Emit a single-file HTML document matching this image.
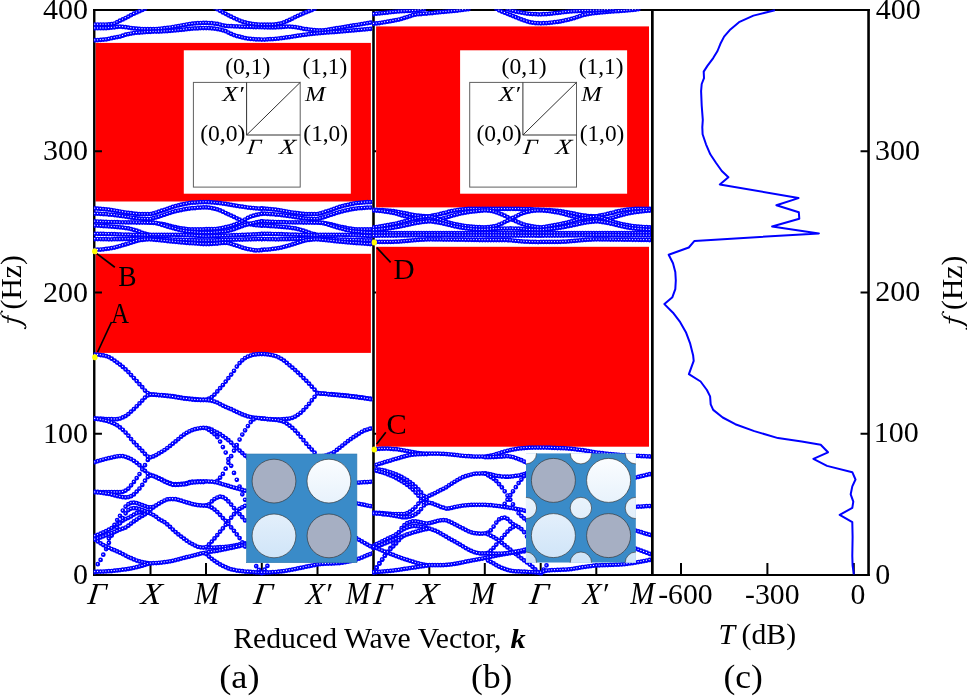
<!DOCTYPE html>
<html><head><meta charset="utf-8"><title>Band structure</title>
<style>html,body{margin:0;padding:0;background:#fff;}svg{display:block;will-change:transform;}text{font-family:"Liberation Serif",serif;fill:#000;}</style></head><body>
<svg width="967" height="696" viewBox="0 0 967 696">
<rect width="967" height="696" fill="#fff"/>
<defs>
<clipPath id="ca"><rect x="93.7" y="9.2" width="278.5" height="566.3"/></clipPath>
<clipPath id="cb"><rect x="372.4" y="9.2" width="278.6" height="566.3"/></clipPath>
<linearGradient id="lg" gradientUnits="userSpaceOnUse" x1="0" y1="458" x2="0" y2="560"><stop offset="0" stop-color="#fbfdff"/><stop offset="1" stop-color="#cfe4f8"/></linearGradient>
<clipPath id="cib"><rect x="525.9" y="453.2" width="110.0" height="109.5"/></clipPath>
</defs>
<g fill="#ff0000">
<rect x="95.5" y="42.9" width="275.4" height="158.6"/>
<rect x="95.5" y="253.8" width="275.4" height="99.1"/>
<rect x="376.1" y="26.4" width="272.9" height="181.0"/>
<rect x="376.1" y="246.8" width="272.9" height="199.9"/>
</g>
<g stroke="#000" fill="none" stroke-linecap="butt">
<path d="M93.05 10.0H869.85M93.05 575.0H869.85" stroke-width="2.0"/>
<path d="M94.25 9.0V576.0" stroke-width="2.4"/>
<path d="M373.5 10.0V575.0" stroke-width="2.6"/>
<path d="M652.35 10.0V575.0" stroke-width="2.7"/>
<path d="M868.55 9.0V576.0" stroke-width="2.6"/>
<path d="M94.25 433.8h7.7M373.5 433.8h2.6M868.55 433.8h-8.0M94.25 292.5h7.7M373.5 292.5h2.6M868.55 292.5h-8.0M94.25 151.2h7.7M373.5 151.2h2.6M868.55 151.2h-8.0M150.5 575.0v-12.0M206.0 575.0v-12.0M261.8 575.0v-12.0M317.5 575.0v-12.0M429.3 575.0v-12.0M484.8 575.0v-12.0M540.7 575.0v-12.0M596.3 575.0v-12.0M681.0 575.0v-12.0M767.4 575.0v-12.0M853.8 575.0v-12.0" stroke-width="2.0"/>
</g>
<g clip-path="url(#ca)" fill="none" stroke-linecap="round">
<path d="M95.0 24.5h0M97.8 24.5h0M100.6 24.5h0M103.3 24.5h0M106.1 24.5h0M108.9 24.3h0M111.7 24.1h0M114.5 23.5h0M117.2 22.2h0M120.0 20.7h0M122.8 19.4h0M125.6 18.0h0M128.4 16.6h0M131.1 15.1h0M133.9 13.7h0M136.7 12.4h0M139.5 11.2h0M142.3 9.9h0M145.0 8.5h0" stroke="#0000ff" stroke-width="4.75"/>
<path d="M95.0 24.5h0M97.8 24.5h0M100.6 24.5h0M103.3 24.5h0M106.1 24.5h0M108.9 24.3h0M111.7 24.1h0M114.5 23.5h0M117.2 22.2h0M120.0 20.7h0M122.8 19.4h0M125.6 18.0h0M128.4 16.6h0M131.1 15.1h0M133.9 13.7h0M136.7 12.4h0M139.5 11.2h0M142.3 9.9h0M145.0 8.5h0" stroke="#fff" stroke-width="1.25" transform="translate(-0.3 -0.3)"/>
<path d="M95.0 28.2h0M97.8 28.2h0M100.6 28.2h0M103.3 28.2h0M106.1 28.2h0M108.9 27.9h0M111.7 27.6h0M114.5 27.3h0M117.2 26.9h0M120.0 26.7h0M122.8 26.9h0M125.6 27.2h0M128.4 27.6h0M131.1 28.0h0M133.9 28.4h0M136.7 28.6h0M139.5 28.8h0M142.3 29.0h0M145.0 29.1h0M147.8 29.2h0M150.6 29.2h0M153.4 29.1h0M156.2 29.0h0M158.9 28.8h0M161.7 28.5h0M164.5 28.2h0M167.3 27.9h0M170.1 27.5h0M172.8 27.0h0M175.6 26.5h0M178.4 26.0h0M181.2 25.5h0M184.0 25.0h0M186.7 24.5h0M189.5 24.0h0M192.3 23.7h0M195.1 23.4h0M197.9 23.2h0M200.6 23.0h0M203.4 22.9h0M206.2 22.9h0M209.0 23.0h0M211.8 23.2h0M214.5 23.5h0M217.3 23.9h0M220.1 24.5h0M222.9 25.4h0M225.7 25.9h0M228.4 26.1h0M231.2 26.2h0M234.0 26.3h0M236.8 26.4h0M239.6 26.5h0M242.3 26.7h0M245.1 26.8h0M247.9 26.8h0M250.7 26.9h0M253.5 27.0h0M256.2 27.1h0M259.0 27.1h0M261.8 27.2h0M264.6 27.3h0M267.4 27.3h0M270.1 27.4h0M272.9 27.4h0M275.7 27.3h0M278.5 27.2h0M281.3 27.0h0M284.0 26.8h0M286.8 26.6h0M289.6 26.6h0M292.4 26.8h0M295.2 27.1h0M297.9 27.5h0M300.7 28.1h0M303.5 28.8h0M306.3 29.2h0M309.1 29.5h0M311.8 29.8h0M314.6 30.1h0M317.4 30.3h0M320.2 30.4h0M323.0 30.3h0M325.7 30.1h0M328.5 29.7h0M331.3 29.2h0M334.1 28.7h0M336.9 28.2h0M339.6 27.8h0M342.4 27.3h0M345.2 26.8h0M348.0 26.4h0M350.8 25.9h0M353.5 25.4h0M356.3 25.0h0M359.1 24.5h0M361.9 24.1h0M364.7 23.6h0M367.4 23.2h0M370.2 22.7h0M373.0 22.3h0" stroke="#0000ff" stroke-width="4.75"/>
<path d="M95.0 28.2h0M97.8 28.2h0M100.6 28.2h0M103.3 28.2h0M106.1 28.2h0M108.9 27.9h0M111.7 27.6h0M114.5 27.3h0M117.2 26.9h0M120.0 26.7h0M122.8 26.9h0M125.6 27.2h0M128.4 27.6h0M131.1 28.0h0M133.9 28.4h0M136.7 28.6h0M139.5 28.8h0M142.3 29.0h0M145.0 29.1h0M147.8 29.2h0M150.6 29.2h0M153.4 29.1h0M156.2 29.0h0M158.9 28.8h0M161.7 28.5h0M164.5 28.2h0M167.3 27.9h0M170.1 27.5h0M172.8 27.0h0M175.6 26.5h0M178.4 26.0h0M181.2 25.5h0M184.0 25.0h0M186.7 24.5h0M189.5 24.0h0M192.3 23.7h0M195.1 23.4h0M197.9 23.2h0M200.6 23.0h0M203.4 22.9h0M206.2 22.9h0M209.0 23.0h0M211.8 23.2h0M214.5 23.5h0M217.3 23.9h0M220.1 24.5h0M222.9 25.4h0M225.7 25.9h0M228.4 26.1h0M231.2 26.2h0M234.0 26.3h0M236.8 26.4h0M239.6 26.5h0M242.3 26.7h0M245.1 26.8h0M247.9 26.8h0M250.7 26.9h0M253.5 27.0h0M256.2 27.1h0M259.0 27.1h0M261.8 27.2h0M264.6 27.3h0M267.4 27.3h0M270.1 27.4h0M272.9 27.4h0M275.7 27.3h0M278.5 27.2h0M281.3 27.0h0M284.0 26.8h0M286.8 26.6h0M289.6 26.6h0M292.4 26.8h0M295.2 27.1h0M297.9 27.5h0M300.7 28.1h0M303.5 28.8h0M306.3 29.2h0M309.1 29.5h0M311.8 29.8h0M314.6 30.1h0M317.4 30.3h0M320.2 30.4h0M323.0 30.3h0M325.7 30.1h0M328.5 29.7h0M331.3 29.2h0M334.1 28.7h0M336.9 28.2h0M339.6 27.8h0M342.4 27.3h0M345.2 26.8h0M348.0 26.4h0M350.8 25.9h0M353.5 25.4h0M356.3 25.0h0M359.1 24.5h0M361.9 24.1h0M364.7 23.6h0M367.4 23.2h0M370.2 22.7h0M373.0 22.3h0" stroke="#fff" stroke-width="1.25" transform="translate(-0.3 -0.3)"/>
<path d="M95.0 40.2h0M97.8 40.1h0M100.6 39.9h0M103.3 39.7h0M106.1 39.4h0M108.9 38.8h0M111.7 38.2h0M114.5 37.6h0M117.2 37.1h0M120.0 36.5h0M122.8 35.7h0M125.6 34.7h0M128.4 34.0h0M131.1 33.5h0M133.9 33.0h0M136.7 32.7h0M139.5 32.5h0M142.3 32.3h0M145.0 32.1h0M147.8 31.9h0M150.6 31.8h0M153.4 31.6h0M156.2 31.6h0M158.9 31.5h0M161.7 31.4h0M164.5 31.2h0M167.3 31.1h0M170.1 30.8h0M172.8 30.6h0M175.6 30.3h0M178.4 30.1h0M181.2 29.8h0M184.0 29.5h0M186.7 29.2h0M189.5 28.9h0M192.3 28.6h0M195.1 28.4h0M197.9 28.3h0M200.6 28.1h0M203.4 28.0h0M206.2 28.0h0M209.0 28.1h0M211.8 28.3h0M214.5 28.6h0M217.3 29.0h0M220.1 29.5h0M222.9 30.3h0M225.7 31.2h0M228.4 32.5h0M231.2 33.9h0M234.0 35.1h0M236.8 36.0h0M239.6 36.7h0M242.3 37.4h0M245.1 38.1h0M247.9 38.6h0M250.7 38.9h0M253.5 39.1h0M256.2 39.3h0M259.0 39.4h0M261.8 39.5h0M264.6 39.5h0M267.4 39.3h0M270.1 39.2h0M272.9 39.0h0M275.7 38.8h0M278.5 38.5h0M281.3 38.2h0M284.0 37.8h0M286.8 37.4h0M289.6 37.0h0M292.4 36.6h0M295.2 36.2h0M297.9 35.7h0M300.7 35.3h0M303.5 34.9h0M306.3 34.5h0M309.1 34.2h0M311.8 33.9h0M314.6 33.6h0M317.4 33.3h0M320.2 33.1h0M323.0 32.8h0M325.7 32.6h0M328.5 32.4h0M331.3 32.2h0M334.1 32.0h0M336.9 31.8h0M339.6 31.6h0M342.4 31.3h0M345.2 31.1h0M348.0 30.8h0M350.8 30.6h0M353.5 30.4h0M356.3 30.1h0M359.1 29.9h0M361.9 29.6h0M364.7 29.4h0M367.4 29.1h0M370.2 28.9h0M373.0 28.6h0" stroke="#0000ff" stroke-width="4.75"/>
<path d="M95.0 40.2h0M97.8 40.1h0M100.6 39.9h0M103.3 39.7h0M106.1 39.4h0M108.9 38.8h0M111.7 38.2h0M114.5 37.6h0M117.2 37.1h0M120.0 36.5h0M122.8 35.7h0M125.6 34.7h0M128.4 34.0h0M131.1 33.5h0M133.9 33.0h0M136.7 32.7h0M139.5 32.5h0M142.3 32.3h0M145.0 32.1h0M147.8 31.9h0M150.6 31.8h0M153.4 31.6h0M156.2 31.6h0M158.9 31.5h0M161.7 31.4h0M164.5 31.2h0M167.3 31.1h0M170.1 30.8h0M172.8 30.6h0M175.6 30.3h0M178.4 30.1h0M181.2 29.8h0M184.0 29.5h0M186.7 29.2h0M189.5 28.9h0M192.3 28.6h0M195.1 28.4h0M197.9 28.3h0M200.6 28.1h0M203.4 28.0h0M206.2 28.0h0M209.0 28.1h0M211.8 28.3h0M214.5 28.6h0M217.3 29.0h0M220.1 29.5h0M222.9 30.3h0M225.7 31.2h0M228.4 32.5h0M231.2 33.9h0M234.0 35.1h0M236.8 36.0h0M239.6 36.7h0M242.3 37.4h0M245.1 38.1h0M247.9 38.6h0M250.7 38.9h0M253.5 39.1h0M256.2 39.3h0M259.0 39.4h0M261.8 39.5h0M264.6 39.5h0M267.4 39.3h0M270.1 39.2h0M272.9 39.0h0M275.7 38.8h0M278.5 38.5h0M281.3 38.2h0M284.0 37.8h0M286.8 37.4h0M289.6 37.0h0M292.4 36.6h0M295.2 36.2h0M297.9 35.7h0M300.7 35.3h0M303.5 34.9h0M306.3 34.5h0M309.1 34.2h0M311.8 33.9h0M314.6 33.6h0M317.4 33.3h0M320.2 33.1h0M323.0 32.8h0M325.7 32.6h0M328.5 32.4h0M331.3 32.2h0M334.1 32.0h0M336.9 31.8h0M339.6 31.6h0M342.4 31.3h0M345.2 31.1h0M348.0 30.8h0M350.8 30.6h0M353.5 30.4h0M356.3 30.1h0M359.1 29.9h0M361.9 29.6h0M364.7 29.4h0M367.4 29.1h0M370.2 28.9h0M373.0 28.6h0" stroke="#fff" stroke-width="1.25" transform="translate(-0.3 -0.3)"/>
<path d="M214.5 7.4h0M217.3 9.2h0M220.1 10.8h0M222.9 12.4h0M225.7 13.8h0M228.4 15.3h0M231.2 16.7h0M234.0 18.0h0M236.8 19.3h0M239.6 20.5h0M242.3 21.5h0M245.1 22.4h0M247.9 23.2h0M250.7 23.6h0M253.5 24.0h0M256.2 24.3h0M259.0 24.5h0M261.8 24.6h0M264.6 24.6h0M267.4 24.6h0M270.1 24.6h0M272.9 24.6h0M275.7 24.4h0M278.5 23.9h0M281.3 23.3h0M284.0 22.4h0M286.8 21.2h0M289.6 19.9h0M292.4 18.5h0M295.2 17.1h0M297.9 15.8h0M300.7 14.5h0M303.5 13.3h0M306.3 12.2h0M309.1 11.1h0M311.8 10.0h0M314.6 8.7h0" stroke="#0000ff" stroke-width="4.75"/>
<path d="M214.5 7.4h0M217.3 9.2h0M220.1 10.8h0M222.9 12.4h0M225.7 13.8h0M228.4 15.3h0M231.2 16.7h0M234.0 18.0h0M236.8 19.3h0M239.6 20.5h0M242.3 21.5h0M245.1 22.4h0M247.9 23.2h0M250.7 23.6h0M253.5 24.0h0M256.2 24.3h0M259.0 24.5h0M261.8 24.6h0M264.6 24.6h0M267.4 24.6h0M270.1 24.6h0M272.9 24.6h0M275.7 24.4h0M278.5 23.9h0M281.3 23.3h0M284.0 22.4h0M286.8 21.2h0M289.6 19.9h0M292.4 18.5h0M295.2 17.1h0M297.9 15.8h0M300.7 14.5h0M303.5 13.3h0M306.3 12.2h0M309.1 11.1h0M311.8 10.0h0M314.6 8.7h0" stroke="#fff" stroke-width="1.25" transform="translate(-0.3 -0.3)"/>
<path d="M95.0 208.4h0M97.8 208.6h0M100.6 208.9h0M103.3 209.1h0M106.1 209.4h0M108.9 209.7h0M111.7 210.1h0M114.5 210.5h0M117.2 211.0h0M120.0 211.5h0M122.8 212.0h0M125.6 212.5h0M128.4 212.8h0M131.1 213.2h0M133.9 213.6h0M136.7 213.9h0M139.5 214.1h0M142.3 214.1h0M145.0 214.1h0M147.8 214.1h0" stroke="#0000ff" stroke-width="4.75"/>
<path d="M95.0 208.4h0M97.8 208.6h0M100.6 208.9h0M103.3 209.1h0M106.1 209.4h0M108.9 209.7h0M111.7 210.1h0M114.5 210.5h0M117.2 211.0h0M120.0 211.5h0M122.8 212.0h0M125.6 212.5h0M128.4 212.8h0M131.1 213.2h0M133.9 213.6h0M136.7 213.9h0M139.5 214.1h0M142.3 214.1h0M145.0 214.1h0M147.8 214.1h0" stroke="#fff" stroke-width="1.25" transform="translate(-0.3 -0.3)"/>
<path d="M261.8 208.4h0M264.6 208.6h0M267.4 208.9h0M270.1 209.1h0M272.9 209.4h0M275.7 209.7h0M278.5 210.1h0M281.3 210.5h0M284.0 211.0h0M286.8 211.5h0M289.6 212.0h0M292.4 212.5h0M295.2 212.8h0M297.9 213.2h0M300.7 213.6h0M303.5 213.9h0M306.3 214.1h0M309.1 214.1h0M311.8 214.1h0M314.6 214.1h0M317.4 214.1h0" stroke="#0000ff" stroke-width="4.75"/>
<path d="M261.8 208.4h0M264.6 208.6h0M267.4 208.9h0M270.1 209.1h0M272.9 209.4h0M275.7 209.7h0M278.5 210.1h0M281.3 210.5h0M284.0 211.0h0M286.8 211.5h0M289.6 212.0h0M292.4 212.5h0M295.2 212.8h0M297.9 213.2h0M300.7 213.6h0M303.5 213.9h0M306.3 214.1h0M309.1 214.1h0M311.8 214.1h0M314.6 214.1h0M317.4 214.1h0" stroke="#fff" stroke-width="1.25" transform="translate(-0.3 -0.3)"/>
<path d="M95.0 213.6h0M97.8 213.7h0M100.6 213.9h0M103.3 214.0h0M106.1 214.2h0M108.9 214.5h0M111.7 214.7h0M114.5 215.0h0M117.2 215.4h0M120.0 215.8h0M122.8 216.2h0M125.6 216.6h0M128.4 217.0h0M131.1 217.5h0M133.9 217.9h0M136.7 218.3h0M139.5 218.6h0M142.3 218.8h0M145.0 218.9h0M147.8 219.0h0" stroke="#0000ff" stroke-width="4.75"/>
<path d="M95.0 213.6h0M97.8 213.7h0M100.6 213.9h0M103.3 214.0h0M106.1 214.2h0M108.9 214.5h0M111.7 214.7h0M114.5 215.0h0M117.2 215.4h0M120.0 215.8h0M122.8 216.2h0M125.6 216.6h0M128.4 217.0h0M131.1 217.5h0M133.9 217.9h0M136.7 218.3h0M139.5 218.6h0M142.3 218.8h0M145.0 218.9h0M147.8 219.0h0" stroke="#fff" stroke-width="1.25" transform="translate(-0.3 -0.3)"/>
<path d="M261.8 213.6h0M264.6 213.7h0M267.4 213.9h0M270.1 214.0h0M272.9 214.2h0M275.7 214.5h0M278.5 214.7h0M281.3 215.0h0M284.0 215.4h0M286.8 215.8h0M289.6 216.2h0M292.4 216.6h0M295.2 217.0h0M297.9 217.4h0M300.7 217.9h0M303.5 218.3h0M306.3 218.6h0M309.1 218.8h0M311.8 218.9h0M314.6 219.0h0M317.4 219.0h0" stroke="#0000ff" stroke-width="4.75"/>
<path d="M261.8 213.6h0M264.6 213.7h0M267.4 213.9h0M270.1 214.0h0M272.9 214.2h0M275.7 214.5h0M278.5 214.7h0M281.3 215.0h0M284.0 215.4h0M286.8 215.8h0M289.6 216.2h0M292.4 216.6h0M295.2 217.0h0M297.9 217.4h0M300.7 217.9h0M303.5 218.3h0M306.3 218.6h0M309.1 218.8h0M311.8 218.9h0M314.6 219.0h0M317.4 219.0h0" stroke="#fff" stroke-width="1.25" transform="translate(-0.3 -0.3)"/>
<path d="M95.0 221.4h0M97.8 221.5h0M100.6 221.7h0M103.3 221.8h0M106.1 221.9h0M108.9 222.0h0M111.7 222.1h0M114.5 222.2h0M117.2 222.2h0M120.0 222.3h0M122.8 222.3h0M125.6 222.3h0M128.4 222.4h0M131.1 222.4h0M133.9 222.4h0M136.7 222.5h0M139.5 222.5h0M142.3 222.6h0M145.0 222.6h0M147.8 222.7h0" stroke="#0000ff" stroke-width="4.75"/>
<path d="M95.0 221.4h0M97.8 221.5h0M100.6 221.7h0M103.3 221.8h0M106.1 221.9h0M108.9 222.0h0M111.7 222.1h0M114.5 222.2h0M117.2 222.2h0M120.0 222.3h0M122.8 222.3h0M125.6 222.3h0M128.4 222.4h0M131.1 222.4h0M133.9 222.4h0M136.7 222.5h0M139.5 222.5h0M142.3 222.6h0M145.0 222.6h0M147.8 222.7h0" stroke="#fff" stroke-width="1.25" transform="translate(-0.3 -0.3)"/>
<path d="M261.8 221.4h0M264.6 221.5h0M267.4 221.7h0M270.1 221.8h0M272.9 221.9h0M275.7 222.0h0M278.5 222.1h0M281.3 222.2h0M284.0 222.2h0M286.8 222.3h0M289.6 222.3h0M292.4 222.3h0M295.2 222.4h0M297.9 222.4h0M300.7 222.4h0M303.5 222.5h0M306.3 222.5h0M309.1 222.6h0M311.8 222.6h0M314.6 222.7h0M317.4 222.7h0" stroke="#0000ff" stroke-width="4.75"/>
<path d="M261.8 221.4h0M264.6 221.5h0M267.4 221.7h0M270.1 221.8h0M272.9 221.9h0M275.7 222.0h0M278.5 222.1h0M281.3 222.2h0M284.0 222.2h0M286.8 222.3h0M289.6 222.3h0M292.4 222.3h0M295.2 222.4h0M297.9 222.4h0M300.7 222.4h0M303.5 222.5h0M306.3 222.5h0M309.1 222.6h0M311.8 222.6h0M314.6 222.7h0M317.4 222.7h0" stroke="#fff" stroke-width="1.25" transform="translate(-0.3 -0.3)"/>
<path d="M95.0 225.5h0M97.8 225.6h0M100.6 225.8h0M103.3 226.0h0M106.1 226.2h0M108.9 226.4h0M111.7 226.6h0M114.5 226.8h0M117.2 227.1h0M120.0 227.3h0M122.8 227.6h0M125.6 228.0h0M128.4 228.4h0M131.1 229.1h0M133.9 229.9h0M136.7 230.7h0M139.5 231.7h0M142.3 232.8h0M145.0 233.6h0M147.8 234.3h0" stroke="#0000ff" stroke-width="4.75"/>
<path d="M95.0 225.5h0M97.8 225.6h0M100.6 225.8h0M103.3 226.0h0M106.1 226.2h0M108.9 226.4h0M111.7 226.6h0M114.5 226.8h0M117.2 227.1h0M120.0 227.3h0M122.8 227.6h0M125.6 228.0h0M128.4 228.4h0M131.1 229.1h0M133.9 229.9h0M136.7 230.7h0M139.5 231.7h0M142.3 232.8h0M145.0 233.6h0M147.8 234.3h0" stroke="#fff" stroke-width="1.25" transform="translate(-0.3 -0.3)"/>
<path d="M261.8 225.5h0M264.6 225.6h0M267.4 225.8h0M270.1 226.0h0M272.9 226.2h0M275.7 226.4h0M278.5 226.6h0M281.3 226.8h0M284.0 227.0h0M286.8 227.3h0M289.6 227.6h0M292.4 228.0h0M295.2 228.4h0M297.9 229.1h0M300.7 229.8h0M303.5 230.7h0M306.3 231.6h0M309.1 232.7h0M311.8 233.5h0M314.6 234.2h0M317.4 234.8h0" stroke="#0000ff" stroke-width="4.75"/>
<path d="M261.8 225.5h0M264.6 225.6h0M267.4 225.8h0M270.1 226.0h0M272.9 226.2h0M275.7 226.4h0M278.5 226.6h0M281.3 226.8h0M284.0 227.0h0M286.8 227.3h0M289.6 227.6h0M292.4 228.0h0M295.2 228.4h0M297.9 229.1h0M300.7 229.8h0M303.5 230.7h0M306.3 231.6h0M309.1 232.7h0M311.8 233.5h0M314.6 234.2h0M317.4 234.8h0" stroke="#fff" stroke-width="1.25" transform="translate(-0.3 -0.3)"/>
<path d="M95.0 233.8h0M97.8 233.8h0M100.6 233.9h0M103.3 233.9h0M106.1 234.0h0M108.9 234.0h0M111.7 234.1h0M114.5 234.2h0M117.2 234.3h0M120.0 234.4h0M122.8 234.5h0M125.6 234.6h0M128.4 234.7h0M131.1 234.8h0M133.9 234.9h0M136.7 235.0h0M139.5 235.0h0M142.3 235.1h0M145.0 235.2h0M147.8 235.3h0" stroke="#0000ff" stroke-width="4.75"/>
<path d="M95.0 233.8h0M97.8 233.8h0M100.6 233.9h0M103.3 233.9h0M106.1 234.0h0M108.9 234.0h0M111.7 234.1h0M114.5 234.2h0M117.2 234.3h0M120.0 234.4h0M122.8 234.5h0M125.6 234.6h0M128.4 234.7h0M131.1 234.8h0M133.9 234.9h0M136.7 235.0h0M139.5 235.0h0M142.3 235.1h0M145.0 235.2h0M147.8 235.3h0" stroke="#fff" stroke-width="1.25" transform="translate(-0.3 -0.3)"/>
<path d="M261.8 233.8h0M264.6 233.8h0M267.4 233.9h0M270.1 233.9h0M272.9 234.0h0M275.7 234.0h0M278.5 234.1h0M281.3 234.2h0M284.0 234.3h0M286.8 234.4h0M289.6 234.5h0M292.4 234.6h0M295.2 234.7h0M297.9 234.8h0M300.7 234.9h0M303.5 235.0h0M306.3 235.0h0M309.1 235.1h0M311.8 235.2h0M314.6 235.3h0M317.4 235.3h0" stroke="#0000ff" stroke-width="4.75"/>
<path d="M261.8 233.8h0M264.6 233.8h0M267.4 233.9h0M270.1 233.9h0M272.9 234.0h0M275.7 234.0h0M278.5 234.1h0M281.3 234.2h0M284.0 234.3h0M286.8 234.4h0M289.6 234.5h0M292.4 234.6h0M295.2 234.7h0M297.9 234.8h0M300.7 234.9h0M303.5 235.0h0M306.3 235.0h0M309.1 235.1h0M311.8 235.2h0M314.6 235.3h0M317.4 235.3h0" stroke="#fff" stroke-width="1.25" transform="translate(-0.3 -0.3)"/>
<path d="M95.0 239.0h0M97.8 239.0h0M100.6 239.1h0M103.3 239.2h0M106.1 239.2h0M108.9 239.3h0M111.7 239.3h0M114.5 239.2h0M117.2 239.2h0M120.0 239.2h0M122.8 239.1h0M125.6 239.1h0M128.4 239.0h0M131.1 239.0h0M133.9 238.8h0M136.7 238.7h0M139.5 238.5h0M142.3 238.4h0M145.0 238.4h0M147.8 238.4h0" stroke="#0000ff" stroke-width="4.75"/>
<path d="M95.0 239.0h0M97.8 239.0h0M100.6 239.1h0M103.3 239.2h0M106.1 239.2h0M108.9 239.3h0M111.7 239.3h0M114.5 239.2h0M117.2 239.2h0M120.0 239.2h0M122.8 239.1h0M125.6 239.1h0M128.4 239.0h0M131.1 239.0h0M133.9 238.8h0M136.7 238.7h0M139.5 238.5h0M142.3 238.4h0M145.0 238.4h0M147.8 238.4h0" stroke="#fff" stroke-width="1.25" transform="translate(-0.3 -0.3)"/>
<path d="M261.8 239.0h0M264.6 239.0h0M267.4 239.1h0M270.1 239.2h0M272.9 239.2h0M275.7 239.3h0M278.5 239.3h0M281.3 239.2h0M284.0 239.2h0M286.8 239.2h0M289.6 239.1h0M292.4 239.1h0M295.2 239.0h0M297.9 239.0h0M300.7 238.9h0M303.5 238.7h0M306.3 238.5h0M309.1 238.4h0M311.8 238.4h0M314.6 238.4h0M317.4 238.4h0" stroke="#0000ff" stroke-width="4.75"/>
<path d="M261.8 239.0h0M264.6 239.0h0M267.4 239.1h0M270.1 239.2h0M272.9 239.2h0M275.7 239.3h0M278.5 239.3h0M281.3 239.2h0M284.0 239.2h0M286.8 239.2h0M289.6 239.1h0M292.4 239.1h0M295.2 239.0h0M297.9 239.0h0M300.7 238.9h0M303.5 238.7h0M306.3 238.5h0M309.1 238.4h0M311.8 238.4h0M314.6 238.4h0M317.4 238.4h0" stroke="#fff" stroke-width="1.25" transform="translate(-0.3 -0.3)"/>
<path d="M95.0 249.8h0M97.8 249.7h0M100.6 249.5h0M103.3 249.3h0M106.1 248.9h0M108.9 248.6h0M111.7 248.1h0M114.5 247.5h0M117.2 246.8h0M120.0 246.0h0M122.8 245.2h0M125.6 244.4h0M128.4 243.5h0M131.1 242.7h0M133.9 241.8h0M136.7 240.9h0M139.5 240.2h0M142.3 239.9h0M145.0 239.5h0M147.8 239.3h0" stroke="#0000ff" stroke-width="4.75"/>
<path d="M95.0 249.8h0M97.8 249.7h0M100.6 249.5h0M103.3 249.3h0M106.1 248.9h0M108.9 248.6h0M111.7 248.1h0M114.5 247.5h0M117.2 246.8h0M120.0 246.0h0M122.8 245.2h0M125.6 244.4h0M128.4 243.5h0M131.1 242.7h0M133.9 241.8h0M136.7 240.9h0M139.5 240.2h0M142.3 239.9h0M145.0 239.5h0M147.8 239.3h0" stroke="#fff" stroke-width="1.25" transform="translate(-0.3 -0.3)"/>
<path d="M261.8 249.8h0M264.6 249.7h0M267.4 249.5h0M270.1 249.3h0M272.9 248.9h0M275.7 248.6h0M278.5 248.1h0M281.3 247.6h0M284.0 246.8h0M286.8 246.0h0M289.6 245.3h0M292.4 244.4h0M295.2 243.6h0M297.9 242.7h0M300.7 241.8h0M303.5 240.9h0M306.3 240.2h0M309.1 239.9h0M311.8 239.6h0M314.6 239.3h0M317.4 239.3h0" stroke="#0000ff" stroke-width="4.75"/>
<path d="M261.8 249.8h0M264.6 249.7h0M267.4 249.5h0M270.1 249.3h0M272.9 248.9h0M275.7 248.6h0M278.5 248.1h0M281.3 247.6h0M284.0 246.8h0M286.8 246.0h0M289.6 245.3h0M292.4 244.4h0M295.2 243.6h0M297.9 242.7h0M300.7 241.8h0M303.5 240.9h0M306.3 240.2h0M309.1 239.9h0M311.8 239.6h0M314.6 239.3h0M317.4 239.3h0" stroke="#fff" stroke-width="1.25" transform="translate(-0.3 -0.3)"/>
<path d="M150.6 214.1h0M153.4 213.3h0M156.2 212.5h0M158.9 211.6h0M161.7 210.7h0M164.5 209.8h0M167.3 208.8h0M170.1 207.8h0M172.8 206.9h0M175.6 206.1h0M178.4 205.4h0M181.2 204.7h0M184.0 204.1h0M186.7 203.5h0M189.5 203.0h0M192.3 202.7h0M195.1 202.5h0M197.9 202.3h0M200.6 202.2h0M203.4 202.1h0" stroke="#0000ff" stroke-width="4.75"/>
<path d="M150.6 214.1h0M153.4 213.3h0M156.2 212.5h0M158.9 211.6h0M161.7 210.7h0M164.5 209.8h0M167.3 208.8h0M170.1 207.8h0M172.8 206.9h0M175.6 206.1h0M178.4 205.4h0M181.2 204.7h0M184.0 204.1h0M186.7 203.5h0M189.5 203.0h0M192.3 202.7h0M195.1 202.5h0M197.9 202.3h0M200.6 202.2h0M203.4 202.1h0" stroke="#fff" stroke-width="1.25" transform="translate(-0.3 -0.3)"/>
<path d="M320.2 213.4h0M323.0 212.5h0M325.7 211.7h0M328.5 210.8h0M331.3 209.9h0M334.1 208.8h0M336.9 207.8h0M339.6 206.9h0M342.4 206.1h0M345.2 205.4h0M348.0 204.8h0M350.8 204.2h0M353.5 203.5h0M356.3 203.0h0M359.1 202.8h0M361.9 202.5h0M364.7 202.3h0M367.4 202.2h0M370.2 202.1h0M373.0 202.0h0" stroke="#0000ff" stroke-width="4.75"/>
<path d="M320.2 213.4h0M323.0 212.5h0M325.7 211.7h0M328.5 210.8h0M331.3 209.9h0M334.1 208.8h0M336.9 207.8h0M339.6 206.9h0M342.4 206.1h0M345.2 205.4h0M348.0 204.8h0M350.8 204.2h0M353.5 203.5h0M356.3 203.0h0M359.1 202.8h0M361.9 202.5h0M364.7 202.3h0M367.4 202.2h0M370.2 202.1h0M373.0 202.0h0" stroke="#fff" stroke-width="1.25" transform="translate(-0.3 -0.3)"/>
<path d="M150.6 219.0h0M153.4 218.1h0M156.2 217.3h0M158.9 216.5h0M161.7 215.6h0M164.5 214.7h0M167.3 213.7h0M170.1 212.8h0M172.8 211.9h0M175.6 211.2h0M178.4 210.5h0M181.2 210.0h0M184.0 209.4h0M186.7 208.9h0M189.5 208.5h0M192.3 208.2h0M195.1 208.0h0M197.9 207.7h0M200.6 207.6h0M203.4 207.4h0" stroke="#0000ff" stroke-width="4.75"/>
<path d="M150.6 219.0h0M153.4 218.1h0M156.2 217.3h0M158.9 216.5h0M161.7 215.6h0M164.5 214.7h0M167.3 213.7h0M170.1 212.8h0M172.8 211.9h0M175.6 211.2h0M178.4 210.5h0M181.2 210.0h0M184.0 209.4h0M186.7 208.9h0M189.5 208.5h0M192.3 208.2h0M195.1 208.0h0M197.9 207.7h0M200.6 207.6h0M203.4 207.4h0" stroke="#fff" stroke-width="1.25" transform="translate(-0.3 -0.3)"/>
<path d="M320.2 218.2h0M323.0 217.4h0M325.7 216.5h0M328.5 215.6h0M331.3 214.7h0M334.1 213.8h0M336.9 212.8h0M339.6 212.0h0M342.4 211.3h0M345.2 210.6h0M348.0 210.0h0M350.8 209.4h0M353.5 208.9h0M356.3 208.5h0M359.1 208.2h0M361.9 208.0h0M364.7 207.8h0M367.4 207.6h0M370.2 207.5h0M373.0 207.4h0" stroke="#0000ff" stroke-width="4.75"/>
<path d="M320.2 218.2h0M323.0 217.4h0M325.7 216.5h0M328.5 215.6h0M331.3 214.7h0M334.1 213.8h0M336.9 212.8h0M339.6 212.0h0M342.4 211.3h0M345.2 210.6h0M348.0 210.0h0M350.8 209.4h0M353.5 208.9h0M356.3 208.5h0M359.1 208.2h0M361.9 208.0h0M364.7 207.8h0M367.4 207.6h0M370.2 207.5h0M373.0 207.4h0" stroke="#fff" stroke-width="1.25" transform="translate(-0.3 -0.3)"/>
<path d="M150.6 222.7h0M153.4 222.9h0M156.2 223.1h0M158.9 223.5h0M161.7 223.9h0M164.5 224.4h0M167.3 225.1h0M170.1 225.9h0M172.8 226.6h0M175.6 227.2h0M178.4 227.8h0M181.2 228.3h0M184.0 228.7h0M186.7 229.2h0M189.5 229.4h0M192.3 229.4h0M195.1 229.4h0M197.9 229.4h0M200.6 229.3h0M203.4 229.3h0" stroke="#0000ff" stroke-width="4.75"/>
<path d="M150.6 222.7h0M153.4 222.9h0M156.2 223.1h0M158.9 223.5h0M161.7 223.9h0M164.5 224.4h0M167.3 225.1h0M170.1 225.9h0M172.8 226.6h0M175.6 227.2h0M178.4 227.8h0M181.2 228.3h0M184.0 228.7h0M186.7 229.2h0M189.5 229.4h0M192.3 229.4h0M195.1 229.4h0M197.9 229.4h0M200.6 229.3h0M203.4 229.3h0" stroke="#fff" stroke-width="1.25" transform="translate(-0.3 -0.3)"/>
<path d="M320.2 222.8h0M323.0 223.1h0M325.7 223.4h0M328.5 223.8h0M331.3 224.3h0M334.1 225.0h0M336.9 225.8h0M339.6 226.5h0M342.4 227.1h0M345.2 227.7h0M348.0 228.3h0M350.8 228.7h0M353.5 229.2h0M356.3 229.4h0M359.1 229.4h0M361.9 229.4h0M364.7 229.4h0M367.4 229.4h0M370.2 229.3h0M373.0 229.1h0" stroke="#0000ff" stroke-width="4.75"/>
<path d="M320.2 222.8h0M323.0 223.1h0M325.7 223.4h0M328.5 223.8h0M331.3 224.3h0M334.1 225.0h0M336.9 225.8h0M339.6 226.5h0M342.4 227.1h0M345.2 227.7h0M348.0 228.3h0M350.8 228.7h0M353.5 229.2h0M356.3 229.4h0M359.1 229.4h0M361.9 229.4h0M364.7 229.4h0M367.4 229.4h0M370.2 229.3h0M373.0 229.1h0" stroke="#fff" stroke-width="1.25" transform="translate(-0.3 -0.3)"/>
<path d="M150.6 222.7h0M153.4 222.7h0M156.2 223.0h0M158.9 223.8h0M161.7 224.8h0M164.5 225.6h0M167.3 226.5h0M170.1 227.3h0M172.8 228.1h0M175.6 228.9h0M178.4 229.6h0M181.2 230.3h0M184.0 230.8h0M186.7 231.3h0M189.5 231.7h0M192.3 231.9h0M195.1 232.2h0M197.9 232.4h0M200.6 232.6h0M203.4 232.7h0" stroke="#0000ff" stroke-width="4.75"/>
<path d="M150.6 222.7h0M153.4 222.7h0M156.2 223.0h0M158.9 223.8h0M161.7 224.8h0M164.5 225.6h0M167.3 226.5h0M170.1 227.3h0M172.8 228.1h0M175.6 228.9h0M178.4 229.6h0M181.2 230.3h0M184.0 230.8h0M186.7 231.3h0M189.5 231.7h0M192.3 231.9h0M195.1 232.2h0M197.9 232.4h0M200.6 232.6h0M203.4 232.7h0" stroke="#fff" stroke-width="1.25" transform="translate(-0.3 -0.3)"/>
<path d="M320.2 222.7h0M323.0 222.9h0M325.7 223.7h0M328.5 224.7h0M331.3 225.6h0M334.1 226.4h0M336.9 227.3h0M339.6 228.1h0M342.4 228.8h0M345.2 229.6h0M348.0 230.3h0M350.8 230.8h0M353.5 231.3h0M356.3 231.6h0M359.1 231.9h0M361.9 232.2h0M364.7 232.4h0M367.4 232.6h0M370.2 232.7h0M373.0 232.7h0" stroke="#0000ff" stroke-width="4.75"/>
<path d="M320.2 222.7h0M323.0 222.9h0M325.7 223.7h0M328.5 224.7h0M331.3 225.6h0M334.1 226.4h0M336.9 227.3h0M339.6 228.1h0M342.4 228.8h0M345.2 229.6h0M348.0 230.3h0M350.8 230.8h0M353.5 231.3h0M356.3 231.6h0M359.1 231.9h0M361.9 232.2h0M364.7 232.4h0M367.4 232.6h0M370.2 232.7h0M373.0 232.7h0" stroke="#fff" stroke-width="1.25" transform="translate(-0.3 -0.3)"/>
<path d="M150.6 234.8h0M153.4 234.8h0M156.2 234.8h0M158.9 234.8h0M161.7 234.8h0M164.5 234.8h0M167.3 234.8h0M170.1 234.8h0M172.8 234.8h0M175.6 234.8h0M178.4 234.9h0M181.2 235.0h0M184.0 235.1h0M186.7 235.2h0M189.5 235.3h0M192.3 235.4h0M195.1 235.6h0M197.9 235.8h0M200.6 236.0h0M203.4 236.2h0" stroke="#0000ff" stroke-width="4.75"/>
<path d="M150.6 234.8h0M153.4 234.8h0M156.2 234.8h0M158.9 234.8h0M161.7 234.8h0M164.5 234.8h0M167.3 234.8h0M170.1 234.8h0M172.8 234.8h0M175.6 234.8h0M178.4 234.9h0M181.2 235.0h0M184.0 235.1h0M186.7 235.2h0M189.5 235.3h0M192.3 235.4h0M195.1 235.6h0M197.9 235.8h0M200.6 236.0h0M203.4 236.2h0" stroke="#fff" stroke-width="1.25" transform="translate(-0.3 -0.3)"/>
<path d="M320.2 234.8h0M323.0 234.8h0M325.7 234.8h0M328.5 234.8h0M331.3 234.8h0M334.1 234.8h0M336.9 234.8h0M339.6 234.8h0M342.4 234.8h0M345.2 234.9h0M348.0 235.0h0M350.8 235.1h0M353.5 235.2h0M356.3 235.3h0M359.1 235.4h0M361.9 235.6h0M364.7 235.7h0M367.4 235.9h0M370.2 236.1h0M373.0 236.4h0" stroke="#0000ff" stroke-width="4.75"/>
<path d="M320.2 234.8h0M323.0 234.8h0M325.7 234.8h0M328.5 234.8h0M331.3 234.8h0M334.1 234.8h0M336.9 234.8h0M339.6 234.8h0M342.4 234.8h0M345.2 234.9h0M348.0 235.0h0M350.8 235.1h0M353.5 235.2h0M356.3 235.3h0M359.1 235.4h0M361.9 235.6h0M364.7 235.7h0M367.4 235.9h0M370.2 236.1h0M373.0 236.4h0" stroke="#fff" stroke-width="1.25" transform="translate(-0.3 -0.3)"/>
<path d="M150.6 238.4h0M153.4 238.6h0M156.2 238.7h0M158.9 238.9h0M161.7 239.0h0M164.5 239.1h0M167.3 239.2h0M170.1 239.4h0M172.8 239.5h0M175.6 239.6h0M178.4 239.7h0M181.2 239.8h0M184.0 239.9h0M186.7 240.0h0M189.5 240.1h0M192.3 240.1h0M195.1 240.2h0M197.9 240.3h0M200.6 240.4h0M203.4 240.4h0" stroke="#0000ff" stroke-width="4.75"/>
<path d="M150.6 238.4h0M153.4 238.6h0M156.2 238.7h0M158.9 238.9h0M161.7 239.0h0M164.5 239.1h0M167.3 239.2h0M170.1 239.4h0M172.8 239.5h0M175.6 239.6h0M178.4 239.7h0M181.2 239.8h0M184.0 239.9h0M186.7 240.0h0M189.5 240.1h0M192.3 240.1h0M195.1 240.2h0M197.9 240.3h0M200.6 240.4h0M203.4 240.4h0" stroke="#fff" stroke-width="1.25" transform="translate(-0.3 -0.3)"/>
<path d="M320.2 238.6h0M323.0 238.7h0M325.7 238.9h0M328.5 239.0h0M331.3 239.1h0M334.1 239.2h0M336.9 239.4h0M339.6 239.5h0M342.4 239.6h0M345.2 239.7h0M348.0 239.8h0M350.8 239.9h0M353.5 240.0h0M356.3 240.0h0M359.1 240.1h0M361.9 240.2h0M364.7 240.3h0M367.4 240.4h0M370.2 240.4h0M373.0 240.5h0" stroke="#0000ff" stroke-width="4.75"/>
<path d="M320.2 238.6h0M323.0 238.7h0M325.7 238.9h0M328.5 239.0h0M331.3 239.1h0M334.1 239.2h0M336.9 239.4h0M339.6 239.5h0M342.4 239.6h0M345.2 239.7h0M348.0 239.8h0M350.8 239.9h0M353.5 240.0h0M356.3 240.0h0M359.1 240.1h0M361.9 240.2h0M364.7 240.3h0M367.4 240.4h0M370.2 240.4h0M373.0 240.5h0" stroke="#fff" stroke-width="1.25" transform="translate(-0.3 -0.3)"/>
<path d="M150.6 239.3h0M153.4 239.6h0M156.2 239.9h0M158.9 240.1h0M161.7 240.4h0M164.5 240.7h0M167.3 241.0h0M170.1 241.3h0M172.8 241.5h0M175.6 241.8h0M178.4 242.1h0M181.2 242.4h0M184.0 242.6h0M186.7 242.9h0M189.5 243.1h0M192.3 243.2h0M195.1 243.4h0M197.9 243.6h0M200.6 243.8h0M203.4 244.0h0" stroke="#0000ff" stroke-width="4.75"/>
<path d="M150.6 239.3h0M153.4 239.6h0M156.2 239.9h0M158.9 240.1h0M161.7 240.4h0M164.5 240.7h0M167.3 241.0h0M170.1 241.3h0M172.8 241.5h0M175.6 241.8h0M178.4 242.1h0M181.2 242.4h0M184.0 242.6h0M186.7 242.9h0M189.5 243.1h0M192.3 243.2h0M195.1 243.4h0M197.9 243.6h0M200.6 243.8h0M203.4 244.0h0" stroke="#fff" stroke-width="1.25" transform="translate(-0.3 -0.3)"/>
<path d="M320.2 239.5h0M323.0 239.8h0M325.7 240.1h0M328.5 240.4h0M331.3 240.7h0M334.1 241.0h0M336.9 241.3h0M339.6 241.5h0M342.4 241.8h0M345.2 242.1h0M348.0 242.4h0M350.8 242.6h0M353.5 242.8h0M356.3 243.0h0M359.1 243.2h0M361.9 243.4h0M364.7 243.6h0M367.4 243.8h0M370.2 244.0h0M373.0 244.1h0" stroke="#0000ff" stroke-width="4.75"/>
<path d="M320.2 239.5h0M323.0 239.8h0M325.7 240.1h0M328.5 240.4h0M331.3 240.7h0M334.1 241.0h0M336.9 241.3h0M339.6 241.5h0M342.4 241.8h0M345.2 242.1h0M348.0 242.4h0M350.8 242.6h0M353.5 242.8h0M356.3 243.0h0M359.1 243.2h0M361.9 243.4h0M364.7 243.6h0M367.4 243.8h0M370.2 244.0h0M373.0 244.1h0" stroke="#fff" stroke-width="1.25" transform="translate(-0.3 -0.3)"/>
<path d="M206.2 202.0h0M209.0 202.2h0M211.8 202.4h0M214.5 202.6h0M217.3 202.9h0M220.1 203.2h0M222.9 203.5h0M225.7 203.9h0M228.4 204.4h0M231.2 204.9h0M234.0 205.4h0M236.8 205.9h0M239.6 206.3h0M242.3 206.7h0M245.1 207.1h0M247.9 207.5h0M250.7 207.8h0M253.5 208.0h0M256.2 208.3h0M259.0 208.5h0M261.8 208.7h0" stroke="#0000ff" stroke-width="4.75"/>
<path d="M206.2 202.0h0M209.0 202.2h0M211.8 202.4h0M214.5 202.6h0M217.3 202.9h0M220.1 203.2h0M222.9 203.5h0M225.7 203.9h0M228.4 204.4h0M231.2 204.9h0M234.0 205.4h0M236.8 205.9h0M239.6 206.3h0M242.3 206.7h0M245.1 207.1h0M247.9 207.5h0M250.7 207.8h0M253.5 208.0h0M256.2 208.3h0M259.0 208.5h0M261.8 208.7h0" stroke="#fff" stroke-width="1.25" transform="translate(-0.3 -0.3)"/>
<path d="M206.2 207.4h0M209.0 207.7h0M211.8 208.1h0M214.5 208.7h0M217.3 209.4h0M220.1 210.4h0M222.9 211.7h0M225.7 213.0h0M228.4 214.3h0M231.2 215.6h0M234.0 216.9h0M236.8 218.3h0M239.6 219.7h0M242.3 221.1h0M245.1 222.4h0M247.9 223.6h0M250.7 224.3h0M253.5 224.8h0M256.2 225.2h0M259.0 225.4h0M261.8 225.5h0" stroke="#0000ff" stroke-width="4.75"/>
<path d="M206.2 207.4h0M209.0 207.7h0M211.8 208.1h0M214.5 208.7h0M217.3 209.4h0M220.1 210.4h0M222.9 211.7h0M225.7 213.0h0M228.4 214.3h0M231.2 215.6h0M234.0 216.9h0M236.8 218.3h0M239.6 219.7h0M242.3 221.1h0M245.1 222.4h0M247.9 223.6h0M250.7 224.3h0M253.5 224.8h0M256.2 225.2h0M259.0 225.4h0M261.8 225.5h0" stroke="#fff" stroke-width="1.25" transform="translate(-0.3 -0.3)"/>
<path d="M206.2 229.1h0M209.0 229.1h0M211.8 229.1h0M214.5 229.0h0M217.3 228.8h0M220.1 228.4h0M222.9 227.9h0M225.7 227.2h0M228.4 226.6h0M231.2 225.8h0M234.0 224.9h0M236.8 223.9h0M239.6 222.6h0M242.3 221.2h0M245.1 219.5h0M247.9 217.8h0M250.7 216.6h0M253.5 215.7h0M256.2 214.9h0M259.0 214.3h0M261.8 213.9h0" stroke="#0000ff" stroke-width="4.75"/>
<path d="M206.2 229.1h0M209.0 229.1h0M211.8 229.1h0M214.5 229.0h0M217.3 228.8h0M220.1 228.4h0M222.9 227.9h0M225.7 227.2h0M228.4 226.6h0M231.2 225.8h0M234.0 224.9h0M236.8 223.9h0M239.6 222.6h0M242.3 221.2h0M245.1 219.5h0M247.9 217.8h0M250.7 216.6h0M253.5 215.7h0M256.2 214.9h0M259.0 214.3h0M261.8 213.9h0" stroke="#fff" stroke-width="1.25" transform="translate(-0.3 -0.3)"/>
<path d="M206.2 232.7h0M209.0 232.7h0M211.8 232.6h0M214.5 232.4h0M217.3 232.2h0M220.1 231.9h0M222.9 231.6h0M225.7 231.3h0M228.4 230.8h0M231.2 230.1h0M234.0 229.2h0M236.8 228.1h0M239.6 227.0h0M242.3 226.0h0M245.1 225.0h0M247.9 224.3h0M250.7 223.6h0M253.5 223.0h0M256.2 222.4h0M259.0 221.8h0M261.8 221.4h0" stroke="#0000ff" stroke-width="4.75"/>
<path d="M206.2 232.7h0M209.0 232.7h0M211.8 232.6h0M214.5 232.4h0M217.3 232.2h0M220.1 231.9h0M222.9 231.6h0M225.7 231.3h0M228.4 230.8h0M231.2 230.1h0M234.0 229.2h0M236.8 228.1h0M239.6 227.0h0M242.3 226.0h0M245.1 225.0h0M247.9 224.3h0M250.7 223.6h0M253.5 223.0h0M256.2 222.4h0M259.0 221.8h0M261.8 221.4h0" stroke="#fff" stroke-width="1.25" transform="translate(-0.3 -0.3)"/>
<path d="M206.2 236.4h0M209.0 236.2h0M211.8 236.1h0M214.5 236.0h0M217.3 235.9h0M220.1 235.8h0M222.9 235.7h0M225.7 235.6h0M228.4 235.5h0M231.2 235.3h0M234.0 235.2h0M236.8 235.1h0M239.6 235.0h0M242.3 234.9h0M245.1 234.8h0M247.9 234.7h0M250.7 234.5h0M253.5 234.4h0M256.2 234.3h0M259.0 234.2h0M261.8 234.1h0" stroke="#0000ff" stroke-width="4.75"/>
<path d="M206.2 236.4h0M209.0 236.2h0M211.8 236.1h0M214.5 236.0h0M217.3 235.9h0M220.1 235.8h0M222.9 235.7h0M225.7 235.6h0M228.4 235.5h0M231.2 235.3h0M234.0 235.2h0M236.8 235.1h0M239.6 235.0h0M242.3 234.9h0M245.1 234.8h0M247.9 234.7h0M250.7 234.5h0M253.5 234.4h0M256.2 234.3h0M259.0 234.2h0M261.8 234.1h0" stroke="#fff" stroke-width="1.25" transform="translate(-0.3 -0.3)"/>
<path d="M206.2 240.5h0M209.0 240.4h0M211.8 240.3h0M214.5 240.3h0M217.3 240.2h0M220.1 240.1h0M222.9 240.0h0M225.7 240.0h0M228.4 239.9h0M231.2 239.8h0M234.0 239.7h0M236.8 239.6h0M239.6 239.6h0M242.3 239.5h0M245.1 239.4h0M247.9 239.3h0M250.7 239.3h0M253.5 239.2h0M256.2 239.1h0M259.0 239.0h0M261.8 239.0h0" stroke="#0000ff" stroke-width="4.75"/>
<path d="M206.2 240.5h0M209.0 240.4h0M211.8 240.3h0M214.5 240.3h0M217.3 240.2h0M220.1 240.1h0M222.9 240.0h0M225.7 240.0h0M228.4 239.9h0M231.2 239.8h0M234.0 239.7h0M236.8 239.6h0M239.6 239.6h0M242.3 239.5h0M245.1 239.4h0M247.9 239.3h0M250.7 239.3h0M253.5 239.2h0M256.2 239.1h0M259.0 239.0h0M261.8 239.0h0" stroke="#fff" stroke-width="1.25" transform="translate(-0.3 -0.3)"/>
<path d="M206.2 244.1h0M209.0 244.0h0M211.8 243.9h0M214.5 243.7h0M217.3 243.5h0M220.1 243.2h0M222.9 242.9h0M225.7 242.8h0M228.4 243.1h0M231.2 243.9h0M234.0 244.8h0M236.8 245.7h0M239.6 246.6h0M242.3 247.5h0M245.1 248.3h0M247.9 249.0h0M250.7 249.5h0M253.5 250.0h0M256.2 250.3h0M259.0 250.3h0M261.8 250.1h0" stroke="#0000ff" stroke-width="4.75"/>
<path d="M206.2 244.1h0M209.0 244.0h0M211.8 243.9h0M214.5 243.7h0M217.3 243.5h0M220.1 243.2h0M222.9 242.9h0M225.7 242.8h0M228.4 243.1h0M231.2 243.9h0M234.0 244.8h0M236.8 245.7h0M239.6 246.6h0M242.3 247.5h0M245.1 248.3h0M247.9 249.0h0M250.7 249.5h0M253.5 250.0h0M256.2 250.3h0M259.0 250.3h0M261.8 250.1h0" stroke="#fff" stroke-width="1.25" transform="translate(-0.3 -0.3)"/>
<path d="M95.0 354.6h0M97.8 354.7h0M100.6 355.0h0M103.3 355.4h0M106.1 356.1h0M108.9 357.1h0M111.7 358.7h0M114.5 360.6h0M117.2 362.5h0M120.0 364.6h0M122.8 366.9h0M125.6 369.4h0M128.4 372.1h0M131.1 375.0h0M133.9 378.0h0M136.7 381.0h0M139.5 384.2h0M142.3 387.2h0M145.0 390.5h0M147.8 393.0h0M150.6 394.3h0M153.4 394.6h0M156.2 394.9h0M158.9 395.0h0M161.7 395.1h0M164.5 395.3h0M167.3 395.5h0M170.1 395.8h0M172.8 396.2h0M175.6 396.7h0M178.4 397.1h0M181.2 397.6h0M184.0 398.0h0M186.7 398.3h0M189.5 398.6h0M192.3 398.9h0M195.1 399.2h0M197.9 399.4h0M200.6 399.5h0M203.4 399.6h0M206.2 399.6h0M209.0 398.7h0M211.8 397.1h0M214.5 394.6h0M217.3 391.4h0M220.1 388.2h0M222.9 385.0h0M225.7 381.6h0M228.4 378.1h0M231.2 374.6h0M234.0 370.8h0M236.8 366.5h0M239.6 363.1h0M242.3 360.3h0M245.1 358.0h0M247.9 356.5h0M250.7 355.5h0M253.5 354.7h0M256.2 354.3h0M259.0 354.1h0M261.8 354.0h0M264.6 354.1h0M267.4 354.4h0M270.1 354.8h0M272.9 355.3h0M275.7 356.0h0M278.5 357.3h0M281.3 358.8h0M284.0 360.6h0M286.8 362.9h0M289.6 365.3h0M292.4 367.7h0M295.2 370.1h0M297.9 372.6h0M300.7 375.2h0M303.5 378.0h0M306.3 380.8h0M309.1 383.7h0M311.8 386.7h0M314.6 389.7h0M317.4 392.8h0M320.2 393.3h0M323.0 393.6h0M325.7 393.8h0M328.5 394.0h0M331.3 394.1h0M334.1 394.4h0M336.9 394.6h0M339.6 394.9h0M342.4 395.1h0M345.2 395.4h0M348.0 395.7h0M350.8 396.0h0M353.5 396.3h0M356.3 396.7h0M359.1 397.0h0M361.9 397.4h0M364.7 397.8h0M367.4 398.3h0M370.2 398.7h0M373.0 399.2h0" stroke="#0000ff" stroke-width="4.75"/>
<path d="M95.0 354.6h0M97.8 354.7h0M100.6 355.0h0M103.3 355.4h0M106.1 356.1h0M108.9 357.1h0M111.7 358.7h0M114.5 360.6h0M117.2 362.5h0M120.0 364.6h0M122.8 366.9h0M125.6 369.4h0M128.4 372.1h0M131.1 375.0h0M133.9 378.0h0M136.7 381.0h0M139.5 384.2h0M142.3 387.2h0M145.0 390.5h0M147.8 393.0h0M150.6 394.3h0M153.4 394.6h0M156.2 394.9h0M158.9 395.0h0M161.7 395.1h0M164.5 395.3h0M167.3 395.5h0M170.1 395.8h0M172.8 396.2h0M175.6 396.7h0M178.4 397.1h0M181.2 397.6h0M184.0 398.0h0M186.7 398.3h0M189.5 398.6h0M192.3 398.9h0M195.1 399.2h0M197.9 399.4h0M200.6 399.5h0M203.4 399.6h0M206.2 399.6h0M209.0 398.7h0M211.8 397.1h0M214.5 394.6h0M217.3 391.4h0M220.1 388.2h0M222.9 385.0h0M225.7 381.6h0M228.4 378.1h0M231.2 374.6h0M234.0 370.8h0M236.8 366.5h0M239.6 363.1h0M242.3 360.3h0M245.1 358.0h0M247.9 356.5h0M250.7 355.5h0M253.5 354.7h0M256.2 354.3h0M259.0 354.1h0M261.8 354.0h0M264.6 354.1h0M267.4 354.4h0M270.1 354.8h0M272.9 355.3h0M275.7 356.0h0M278.5 357.3h0M281.3 358.8h0M284.0 360.6h0M286.8 362.9h0M289.6 365.3h0M292.4 367.7h0M295.2 370.1h0M297.9 372.6h0M300.7 375.2h0M303.5 378.0h0M306.3 380.8h0M309.1 383.7h0M311.8 386.7h0M314.6 389.7h0M317.4 392.8h0M320.2 393.3h0M323.0 393.6h0M325.7 393.8h0M328.5 394.0h0M331.3 394.1h0M334.1 394.4h0M336.9 394.6h0M339.6 394.9h0M342.4 395.1h0M345.2 395.4h0M348.0 395.7h0M350.8 396.0h0M353.5 396.3h0M356.3 396.7h0M359.1 397.0h0M361.9 397.4h0M364.7 397.8h0M367.4 398.3h0M370.2 398.7h0M373.0 399.2h0" stroke="#fff" stroke-width="1.25" transform="translate(-0.3 -0.3)"/>
<path d="M95.0 418.4h0M97.8 418.6h0M100.6 418.7h0M103.3 418.8h0M106.1 419.0h0M108.9 419.1h0M111.7 419.2h0M114.5 419.3h0M117.2 419.2h0M120.0 418.5h0M122.8 417.4h0M125.6 416.1h0M128.4 414.1h0M131.1 411.6h0M133.9 409.1h0M136.7 406.3h0M139.5 403.4h0M142.3 400.6h0M145.0 397.6h0M147.8 395.4h0M150.6 394.6h0M153.4 394.7h0M156.2 394.8h0M158.9 395.1h0M161.7 395.3h0M164.5 395.7h0M167.3 396.0h0M170.1 396.3h0M172.8 396.7h0M175.6 397.2h0M178.4 397.7h0M181.2 398.1h0M184.0 398.5h0M186.7 398.8h0M189.5 399.2h0M192.3 399.5h0M195.1 399.8h0M197.9 399.9h0M200.6 400.0h0M203.4 400.0h0M206.2 400.0h0M209.0 400.3h0M211.8 400.8h0M214.5 401.5h0M217.3 402.6h0M220.1 404.1h0M222.9 405.6h0M225.7 406.9h0M228.4 408.0h0M231.2 409.2h0M234.0 410.6h0M236.8 411.9h0M239.6 413.2h0M242.3 414.4h0M245.1 415.4h0M247.9 416.4h0M250.7 417.1h0M253.5 417.6h0M256.2 417.9h0M259.0 418.2h0M261.8 418.4h0M264.6 418.7h0M267.4 419.0h0M270.1 419.2h0M272.9 419.3h0M275.7 419.3h0M278.5 419.3h0M281.3 419.3h0M284.0 419.2h0M286.8 418.9h0M289.6 418.5h0M292.4 417.8h0M295.2 416.5h0M297.9 414.8h0M300.7 412.8h0M303.5 410.1h0M306.3 407.0h0M309.1 403.8h0M311.8 400.3h0M314.6 396.8h0M317.4 393.4h0M320.2 393.5h0M323.0 393.7h0M325.7 393.9h0M328.5 394.3h0M331.3 394.6h0M334.1 394.9h0M336.9 395.1h0M339.6 395.4h0M342.4 395.6h0M345.2 395.9h0M348.0 396.2h0M350.8 396.5h0M353.5 396.8h0M356.3 397.2h0M359.1 397.6h0M361.9 397.9h0M364.7 398.3h0M367.4 398.7h0M370.2 399.2h0M373.0 399.6h0" stroke="#0000ff" stroke-width="4.75"/>
<path d="M95.0 418.4h0M97.8 418.6h0M100.6 418.7h0M103.3 418.8h0M106.1 419.0h0M108.9 419.1h0M111.7 419.2h0M114.5 419.3h0M117.2 419.2h0M120.0 418.5h0M122.8 417.4h0M125.6 416.1h0M128.4 414.1h0M131.1 411.6h0M133.9 409.1h0M136.7 406.3h0M139.5 403.4h0M142.3 400.6h0M145.0 397.6h0M147.8 395.4h0M150.6 394.6h0M153.4 394.7h0M156.2 394.8h0M158.9 395.1h0M161.7 395.3h0M164.5 395.7h0M167.3 396.0h0M170.1 396.3h0M172.8 396.7h0M175.6 397.2h0M178.4 397.7h0M181.2 398.1h0M184.0 398.5h0M186.7 398.8h0M189.5 399.2h0M192.3 399.5h0M195.1 399.8h0M197.9 399.9h0M200.6 400.0h0M203.4 400.0h0M206.2 400.0h0M209.0 400.3h0M211.8 400.8h0M214.5 401.5h0M217.3 402.6h0M220.1 404.1h0M222.9 405.6h0M225.7 406.9h0M228.4 408.0h0M231.2 409.2h0M234.0 410.6h0M236.8 411.9h0M239.6 413.2h0M242.3 414.4h0M245.1 415.4h0M247.9 416.4h0M250.7 417.1h0M253.5 417.6h0M256.2 417.9h0M259.0 418.2h0M261.8 418.4h0M264.6 418.7h0M267.4 419.0h0M270.1 419.2h0M272.9 419.3h0M275.7 419.3h0M278.5 419.3h0M281.3 419.3h0M284.0 419.2h0M286.8 418.9h0M289.6 418.5h0M292.4 417.8h0M295.2 416.5h0M297.9 414.8h0M300.7 412.8h0M303.5 410.1h0M306.3 407.0h0M309.1 403.8h0M311.8 400.3h0M314.6 396.8h0M317.4 393.4h0M320.2 393.5h0M323.0 393.7h0M325.7 393.9h0M328.5 394.3h0M331.3 394.6h0M334.1 394.9h0M336.9 395.1h0M339.6 395.4h0M342.4 395.6h0M345.2 395.9h0M348.0 396.2h0M350.8 396.5h0M353.5 396.8h0M356.3 397.2h0M359.1 397.6h0M361.9 397.9h0M364.7 398.3h0M367.4 398.7h0M370.2 399.2h0M373.0 399.6h0" stroke="#fff" stroke-width="1.25" transform="translate(-0.3 -0.3)"/>
<path d="M95.0 418.8h0M97.8 419.1h0M100.6 419.5h0M103.3 420.1h0M106.1 420.7h0M108.9 421.5h0M111.7 422.5h0M114.5 423.8h0M117.2 425.3h0M120.0 427.4h0M122.8 429.8h0M125.6 432.5h0M128.4 435.7h0M131.1 439.1h0M133.9 442.3h0M136.7 445.2h0M139.5 448.0h0M142.3 450.9h0M145.0 453.9h0M147.8 456.5h0M150.6 457.3h0M153.4 456.4h0M156.2 455.0h0M158.9 453.4h0M161.7 451.8h0M164.5 450.0h0M167.3 448.0h0M170.1 445.9h0M172.8 443.7h0M175.6 441.4h0M178.4 439.1h0M181.2 436.7h0M184.0 434.5h0M186.7 432.8h0M189.5 431.3h0M192.3 430.1h0M195.1 429.2h0M197.9 428.5h0M200.6 428.0h0M203.4 427.9h0M206.2 428.1h0M209.0 428.7h0M211.8 429.7h0M214.5 431.3h0M217.3 432.7h0M220.1 434.2h0M222.9 436.0h0M225.7 438.0h0M228.4 440.2h0M231.2 442.7h0M234.0 445.5h0M236.8 448.2h0M239.6 450.6h0M242.3 453.1h0M245.1 455.6h0M247.9 458.1h0" stroke="#0000ff" stroke-width="4.75"/>
<path d="M95.0 418.8h0M97.8 419.1h0M100.6 419.5h0M103.3 420.1h0M106.1 420.7h0M108.9 421.5h0M111.7 422.5h0M114.5 423.8h0M117.2 425.3h0M120.0 427.4h0M122.8 429.8h0M125.6 432.5h0M128.4 435.7h0M131.1 439.1h0M133.9 442.3h0M136.7 445.2h0M139.5 448.0h0M142.3 450.9h0M145.0 453.9h0M147.8 456.5h0M150.6 457.3h0M153.4 456.4h0M156.2 455.0h0M158.9 453.4h0M161.7 451.8h0M164.5 450.0h0M167.3 448.0h0M170.1 445.9h0M172.8 443.7h0M175.6 441.4h0M178.4 439.1h0M181.2 436.7h0M184.0 434.5h0M186.7 432.8h0M189.5 431.3h0M192.3 430.1h0M195.1 429.2h0M197.9 428.5h0M200.6 428.0h0M203.4 427.9h0M206.2 428.1h0M209.0 428.7h0M211.8 429.7h0M214.5 431.3h0M217.3 432.7h0M220.1 434.2h0M222.9 436.0h0M225.7 438.0h0M228.4 440.2h0M231.2 442.7h0M234.0 445.5h0M236.8 448.2h0M239.6 450.6h0M242.3 453.1h0M245.1 455.6h0M247.9 458.1h0" stroke="#fff" stroke-width="1.25" transform="translate(-0.3 -0.3)"/>
<path d="M261.8 418.6h0M264.6 418.8h0M267.4 419.0h0M270.1 419.3h0M272.9 419.6h0M275.7 419.9h0M278.5 420.3h0M281.3 420.9h0M284.0 421.9h0M286.8 423.6h0M289.6 425.7h0M292.4 427.9h0M295.2 430.7h0M297.9 433.6h0M300.7 436.8h0M303.5 440.2h0M306.3 443.7h0M309.1 446.8h0M311.8 449.5h0M314.6 452.7h0M317.4 456.8h0M320.2 456.6h0M323.0 456.1h0M325.7 455.5h0M328.5 454.6h0M331.3 453.6h0M334.1 452.0h0M336.9 449.9h0M339.6 447.8h0M342.4 445.5h0M345.2 443.3h0M348.0 441.1h0M350.8 439.1h0M353.5 437.2h0M356.3 435.4h0M359.1 433.5h0M361.9 431.8h0M364.7 430.4h0M367.4 429.5h0M370.2 428.7h0M373.0 428.3h0" stroke="#0000ff" stroke-width="4.75"/>
<path d="M261.8 418.6h0M264.6 418.8h0M267.4 419.0h0M270.1 419.3h0M272.9 419.6h0M275.7 419.9h0M278.5 420.3h0M281.3 420.9h0M284.0 421.9h0M286.8 423.6h0M289.6 425.7h0M292.4 427.9h0M295.2 430.7h0M297.9 433.6h0M300.7 436.8h0M303.5 440.2h0M306.3 443.7h0M309.1 446.8h0M311.8 449.5h0M314.6 452.7h0M317.4 456.8h0M320.2 456.6h0M323.0 456.1h0M325.7 455.5h0M328.5 454.6h0M331.3 453.6h0M334.1 452.0h0M336.9 449.9h0M339.6 447.8h0M342.4 445.5h0M345.2 443.3h0M348.0 441.1h0M350.8 439.1h0M353.5 437.2h0M356.3 435.4h0M359.1 433.5h0M361.9 431.8h0M364.7 430.4h0M367.4 429.5h0M370.2 428.7h0M373.0 428.3h0" stroke="#fff" stroke-width="1.25" transform="translate(-0.3 -0.3)"/>
<path d="M206.2 428.2h0M209.0 429.9h0M211.8 431.9h0M214.5 434.2h0M217.3 437.1h0M220.1 441.6h0M222.9 447.0h0M225.7 452.5h0M228.4 459.2h0M231.2 465.8h0M234.0 472.9h0M236.8 479.8h0M239.6 486.5h0M242.3 494.3h0M245.1 499.8h0" stroke="#0000ff" stroke-width="4.75"/>
<path d="M206.2 428.2h0M209.0 429.9h0M211.8 431.9h0M214.5 434.2h0M217.3 437.1h0M220.1 441.6h0M222.9 447.0h0M225.7 452.5h0M228.4 459.2h0M231.2 465.8h0M234.0 472.9h0M236.8 479.8h0M239.6 486.5h0M242.3 494.3h0M245.1 499.8h0" stroke="#fff" stroke-width="1.25" transform="translate(-0.3 -0.3)"/>
<path d="M217.3 480.8h0M220.1 477.7h0M222.9 473.9h0M225.7 468.7h0M228.4 462.8h0M231.2 456.2h0M234.0 450.7h0M236.8 445.0h0M239.6 439.5h0M242.3 434.5h0M245.1 430.3h0M247.9 426.0h0M250.7 422.1h0M253.5 419.4h0" stroke="#0000ff" stroke-width="4.75"/>
<path d="M217.3 480.8h0M220.1 477.7h0M222.9 473.9h0M225.7 468.7h0M228.4 462.8h0M231.2 456.2h0M234.0 450.7h0M236.8 445.0h0M239.6 439.5h0M242.3 434.5h0M245.1 430.3h0M247.9 426.0h0M250.7 422.1h0M253.5 419.4h0" stroke="#fff" stroke-width="1.25" transform="translate(-0.3 -0.3)"/>
<path d="M95.0 462.1h0M97.8 461.2h0M100.6 460.3h0M103.3 459.5h0M106.1 458.8h0M108.9 458.2h0M111.7 457.5h0M114.5 456.9h0M117.2 456.3h0M120.0 456.0h0M122.8 456.1h0M125.6 456.8h0M128.4 457.9h0M131.1 459.1h0M133.9 460.8h0M136.7 462.8h0M139.5 465.2h0M142.3 468.0h0M145.0 470.8h0M147.8 473.6h0M150.6 474.8h0M153.4 475.8h0M156.2 476.9h0M158.9 478.0h0M161.7 479.3h0M164.5 480.8h0M167.3 482.1h0M170.1 483.2h0M172.8 484.0h0M175.6 484.1h0M178.4 484.0h0M181.2 483.8h0M184.0 483.5h0M186.7 483.0h0M189.5 482.2h0M192.3 481.7h0M195.1 481.5h0M197.9 481.4h0M200.6 481.3h0M203.4 481.3h0M206.2 481.4h0M209.0 481.5h0M211.8 481.7h0M214.5 482.0h0M217.3 482.5h0M220.1 483.4h0M222.9 484.3h0M225.7 485.1h0M228.4 485.9h0M231.2 486.8h0M234.0 487.5h0M236.8 488.3h0M239.6 489.1h0M242.3 489.9h0M245.1 490.7h0" stroke="#0000ff" stroke-width="4.75"/>
<path d="M95.0 462.1h0M97.8 461.2h0M100.6 460.3h0M103.3 459.5h0M106.1 458.8h0M108.9 458.2h0M111.7 457.5h0M114.5 456.9h0M117.2 456.3h0M120.0 456.0h0M122.8 456.1h0M125.6 456.8h0M128.4 457.9h0M131.1 459.1h0M133.9 460.8h0M136.7 462.8h0M139.5 465.2h0M142.3 468.0h0M145.0 470.8h0M147.8 473.6h0M150.6 474.8h0M153.4 475.8h0M156.2 476.9h0M158.9 478.0h0M161.7 479.3h0M164.5 480.8h0M167.3 482.1h0M170.1 483.2h0M172.8 484.0h0M175.6 484.1h0M178.4 484.0h0M181.2 483.8h0M184.0 483.5h0M186.7 483.0h0M189.5 482.2h0M192.3 481.7h0M195.1 481.5h0M197.9 481.4h0M200.6 481.3h0M203.4 481.3h0M206.2 481.4h0M209.0 481.5h0M211.8 481.7h0M214.5 482.0h0M217.3 482.5h0M220.1 483.4h0M222.9 484.3h0M225.7 485.1h0M228.4 485.9h0M231.2 486.8h0M234.0 487.5h0M236.8 488.3h0M239.6 489.1h0M242.3 489.9h0M245.1 490.7h0" stroke="#fff" stroke-width="1.25" transform="translate(-0.3 -0.3)"/>
<path d="M95.0 491.8h0M97.8 491.9h0M100.6 492.0h0M103.3 492.1h0M106.1 492.1h0M108.9 492.2h0M111.7 492.2h0M114.5 492.2h0M117.2 492.2h0M120.0 492.2h0M122.8 491.8h0M125.6 490.6h0M128.4 488.6h0M131.1 485.3h0M133.9 481.9h0M136.7 478.1h0M139.5 474.0h0M142.3 469.4h0M145.0 465.2h0M147.8 459.9h0" stroke="#0000ff" stroke-width="4.75"/>
<path d="M95.0 491.8h0M97.8 491.9h0M100.6 492.0h0M103.3 492.1h0M106.1 492.1h0M108.9 492.2h0M111.7 492.2h0M114.5 492.2h0M117.2 492.2h0M120.0 492.2h0M122.8 491.8h0M125.6 490.6h0M128.4 488.6h0M131.1 485.3h0M133.9 481.9h0M136.7 478.1h0M139.5 474.0h0M142.3 469.4h0M145.0 465.2h0M147.8 459.9h0" stroke="#fff" stroke-width="1.25" transform="translate(-0.3 -0.3)"/>
<path d="M95.0 492.2h0M97.8 492.4h0M100.6 492.7h0M103.3 493.1h0M106.1 493.5h0M108.9 493.9h0M111.7 494.5h0M114.5 495.3h0M117.2 496.0h0M120.0 496.6h0M122.8 497.2h0M125.6 497.4h0M128.4 497.1h0M131.1 496.2h0M133.9 494.4h0M136.7 491.6h0M139.5 488.5h0M142.3 484.9h0M145.0 480.7h0M147.8 477.0h0M150.6 475.6h0M153.4 476.1h0M156.2 477.3h0M158.9 478.7h0M161.7 480.0h0M164.5 481.5h0M167.3 482.8h0M170.1 483.9h0M172.8 484.8h0M175.6 484.9h0M178.4 484.8h0M181.2 484.6h0M184.0 484.4h0M186.7 483.9h0M189.5 483.1h0M192.3 482.5h0M195.1 482.3h0M197.9 482.1h0M200.6 482.0h0M203.4 482.0h0" stroke="#0000ff" stroke-width="4.75"/>
<path d="M95.0 492.2h0M97.8 492.4h0M100.6 492.7h0M103.3 493.1h0M106.1 493.5h0M108.9 493.9h0M111.7 494.5h0M114.5 495.3h0M117.2 496.0h0M120.0 496.6h0M122.8 497.2h0M125.6 497.4h0M128.4 497.1h0M131.1 496.2h0M133.9 494.4h0M136.7 491.6h0M139.5 488.5h0M142.3 484.9h0M145.0 480.7h0M147.8 477.0h0M150.6 475.6h0M153.4 476.1h0M156.2 477.3h0M158.9 478.7h0M161.7 480.0h0M164.5 481.5h0M167.3 482.8h0M170.1 483.9h0M172.8 484.8h0M175.6 484.9h0M178.4 484.8h0M181.2 484.6h0M184.0 484.4h0M186.7 483.9h0M189.5 483.1h0M192.3 482.5h0M195.1 482.3h0M197.9 482.1h0M200.6 482.0h0M203.4 482.0h0" stroke="#fff" stroke-width="1.25" transform="translate(-0.3 -0.3)"/>
<path d="M95.0 535.9h0M97.8 534.8h0M100.6 533.7h0M103.3 532.4h0M106.1 531.1h0M108.9 529.6h0M111.7 528.1h0M114.5 526.4h0M117.2 524.4h0M120.0 522.4h0M122.8 520.7h0M125.6 519.1h0M128.4 517.8h0M131.1 516.4h0M133.9 514.6h0M136.7 513.2h0M139.5 512.3h0M142.3 511.9h0M145.0 512.0h0M147.8 512.7h0M150.6 513.6h0M153.4 515.0h0M156.2 516.8h0M158.9 519.0h0M161.7 520.6h0M164.5 522.2h0M167.3 524.4h0M170.1 526.9h0M172.8 529.5h0M175.6 532.1h0M178.4 534.4h0M181.2 536.6h0M184.0 538.7h0M186.7 540.7h0M189.5 542.5h0M192.3 544.1h0M195.1 545.5h0M197.9 546.8h0M200.6 547.3h0M203.4 547.6h0M206.2 547.6h0M209.0 547.6h0M211.8 547.6h0M214.5 547.5h0M217.3 547.4h0M220.1 547.2h0M222.9 547.0h0M225.7 546.8h0M228.4 546.5h0M231.2 546.1h0M234.0 545.7h0M236.8 545.1h0M239.6 544.4h0M242.3 543.8h0M245.1 543.3h0" stroke="#0000ff" stroke-width="4.75"/>
<path d="M95.0 535.9h0M97.8 534.8h0M100.6 533.7h0M103.3 532.4h0M106.1 531.1h0M108.9 529.6h0M111.7 528.1h0M114.5 526.4h0M117.2 524.4h0M120.0 522.4h0M122.8 520.7h0M125.6 519.1h0M128.4 517.8h0M131.1 516.4h0M133.9 514.6h0M136.7 513.2h0M139.5 512.3h0M142.3 511.9h0M145.0 512.0h0M147.8 512.7h0M150.6 513.6h0M153.4 515.0h0M156.2 516.8h0M158.9 519.0h0M161.7 520.6h0M164.5 522.2h0M167.3 524.4h0M170.1 526.9h0M172.8 529.5h0M175.6 532.1h0M178.4 534.4h0M181.2 536.6h0M184.0 538.7h0M186.7 540.7h0M189.5 542.5h0M192.3 544.1h0M195.1 545.5h0M197.9 546.8h0M200.6 547.3h0M203.4 547.6h0M206.2 547.6h0M209.0 547.6h0M211.8 547.6h0M214.5 547.5h0M217.3 547.4h0M220.1 547.2h0M222.9 547.0h0M225.7 546.8h0M228.4 546.5h0M231.2 546.1h0M234.0 545.7h0M236.8 545.1h0M239.6 544.4h0M242.3 543.8h0M245.1 543.3h0" stroke="#fff" stroke-width="1.25" transform="translate(-0.3 -0.3)"/>
<path d="M95.0 572.0h0M97.8 564.2h0M100.6 559.9h0M103.3 554.7h0M106.1 549.1h0M108.9 542.8h0M111.7 534.5h0M114.5 524.9h0M117.2 520.1h0M120.0 515.8h0M122.8 510.5h0M125.6 506.5h0M128.4 504.2h0M131.1 502.9h0M133.9 502.6h0M136.7 503.1h0M139.5 504.1h0M142.3 505.1h0M145.0 506.1h0M147.8 507.1h0M150.6 507.3h0M153.4 506.8h0" stroke="#0000ff" stroke-width="4.75"/>
<path d="M95.0 572.0h0M97.8 564.2h0M100.6 559.9h0M103.3 554.7h0M106.1 549.1h0M108.9 542.8h0M111.7 534.5h0M114.5 524.9h0M117.2 520.1h0M120.0 515.8h0M122.8 510.5h0M125.6 506.5h0M128.4 504.2h0M131.1 502.9h0M133.9 502.6h0M136.7 503.1h0M139.5 504.1h0M142.3 505.1h0M145.0 506.1h0M147.8 507.1h0M150.6 507.3h0M153.4 506.8h0" stroke="#fff" stroke-width="1.25" transform="translate(-0.3 -0.3)"/>
<path d="M108.9 538.6h0M111.7 535.6h0M114.5 531.9h0M117.2 527.6h0M120.0 523.3h0M122.8 518.2h0M125.6 513.3h0M128.4 510.1h0M131.1 508.6h0M133.9 508.2h0M136.7 508.4h0M139.5 509.2h0M142.3 510.0h0M145.0 511.1h0" stroke="#0000ff" stroke-width="4.75"/>
<path d="M108.9 538.6h0M111.7 535.6h0M114.5 531.9h0M117.2 527.6h0M120.0 523.3h0M122.8 518.2h0M125.6 513.3h0M128.4 510.1h0M131.1 508.6h0M133.9 508.2h0M136.7 508.4h0M139.5 509.2h0M142.3 510.0h0M145.0 511.1h0" stroke="#fff" stroke-width="1.25" transform="translate(-0.3 -0.3)"/>
<path d="M95.0 539.3h0M97.8 538.4h0M100.6 537.4h0M103.3 536.3h0M106.1 535.3h0M108.9 534.2h0M111.7 533.1h0M114.5 532.0h0M117.2 530.8h0M120.0 529.6h0M122.8 528.6h0M125.6 527.5h0M128.4 525.7h0M131.1 523.5h0M133.9 521.4h0M136.7 519.5h0M139.5 517.6h0M142.3 515.9h0M145.0 514.3h0M147.8 512.2h0M150.6 509.7h0M153.4 507.3h0M156.2 505.4h0M158.9 503.7h0M161.7 502.0h0M164.5 500.5h0M167.3 499.4h0M170.1 499.0h0M172.8 499.0h0M175.6 499.2h0M178.4 499.9h0M181.2 500.7h0M184.0 501.6h0M186.7 502.4h0M189.5 503.2h0M192.3 504.0h0M195.1 504.7h0M197.9 505.2h0M200.6 505.4h0M203.4 505.6h0M206.2 505.4h0M209.0 504.4h0M211.8 501.4h0M214.5 499.0h0M217.3 497.5h0M220.1 496.7h0M222.9 497.2h0M225.7 498.8h0M228.4 501.4h0M231.2 504.6h0M234.0 508.0h0M236.8 511.1h0M239.6 514.1h0M242.3 517.2h0M245.1 520.4h0" stroke="#0000ff" stroke-width="4.75"/>
<path d="M95.0 539.3h0M97.8 538.4h0M100.6 537.4h0M103.3 536.3h0M106.1 535.3h0M108.9 534.2h0M111.7 533.1h0M114.5 532.0h0M117.2 530.8h0M120.0 529.6h0M122.8 528.6h0M125.6 527.5h0M128.4 525.7h0M131.1 523.5h0M133.9 521.4h0M136.7 519.5h0M139.5 517.6h0M142.3 515.9h0M145.0 514.3h0M147.8 512.2h0M150.6 509.7h0M153.4 507.3h0M156.2 505.4h0M158.9 503.7h0M161.7 502.0h0M164.5 500.5h0M167.3 499.4h0M170.1 499.0h0M172.8 499.0h0M175.6 499.2h0M178.4 499.9h0M181.2 500.7h0M184.0 501.6h0M186.7 502.4h0M189.5 503.2h0M192.3 504.0h0M195.1 504.7h0M197.9 505.2h0M200.6 505.4h0M203.4 505.6h0M206.2 505.4h0M209.0 504.4h0M211.8 501.4h0M214.5 499.0h0M217.3 497.5h0M220.1 496.7h0M222.9 497.2h0M225.7 498.8h0M228.4 501.4h0M231.2 504.6h0M234.0 508.0h0M236.8 511.1h0M239.6 514.1h0M242.3 517.2h0M245.1 520.4h0" stroke="#fff" stroke-width="1.25" transform="translate(-0.3 -0.3)"/>
<path d="M95.0 539.3h0M97.8 541.4h0M100.6 543.3h0M103.3 545.0h0M106.1 546.4h0M108.9 547.7h0M111.7 549.0h0M114.5 550.2h0M117.2 551.4h0M120.0 552.7h0M122.8 554.1h0M125.6 555.5h0M128.4 557.0h0M131.1 558.2h0M133.9 559.4h0M136.7 560.5h0M139.5 561.4h0M142.3 562.1h0M145.0 562.7h0M147.8 563.1h0" stroke="#0000ff" stroke-width="4.75"/>
<path d="M95.0 539.3h0M97.8 541.4h0M100.6 543.3h0M103.3 545.0h0M106.1 546.4h0M108.9 547.7h0M111.7 549.0h0M114.5 550.2h0M117.2 551.4h0M120.0 552.7h0M122.8 554.1h0M125.6 555.5h0M128.4 557.0h0M131.1 558.2h0M133.9 559.4h0M136.7 560.5h0M139.5 561.4h0M142.3 562.1h0M145.0 562.7h0M147.8 563.1h0" stroke="#fff" stroke-width="1.25" transform="translate(-0.3 -0.3)"/>
<path d="M95.0 571.8h0M97.8 571.7h0M100.6 571.6h0M103.3 571.5h0M106.1 571.4h0M108.9 571.2h0M111.7 571.0h0M114.5 570.7h0M117.2 570.4h0M120.0 570.1h0M122.8 569.7h0M125.6 569.4h0M128.4 568.9h0M131.1 568.4h0M133.9 567.8h0M136.7 567.2h0M139.5 566.4h0M142.3 565.7h0M145.0 564.8h0M147.8 563.9h0M150.6 563.4h0M153.4 563.1h0M156.2 563.0h0M158.9 562.8h0M161.7 562.5h0M164.5 562.2h0M167.3 561.8h0M170.1 561.3h0M172.8 560.8h0M175.6 560.1h0M178.4 559.4h0M181.2 558.6h0M184.0 557.9h0M186.7 557.2h0M189.5 556.5h0M192.3 555.8h0M195.1 555.1h0M197.9 554.4h0M200.6 553.6h0M203.4 553.0h0M206.2 552.5h0M209.0 552.0h0M211.8 551.6h0M214.5 551.2h0M217.3 550.8h0M220.1 550.2h0M222.9 549.6h0M225.7 549.0h0M228.4 548.4h0M231.2 547.9h0M234.0 547.3h0M236.8 546.7h0M239.6 546.0h0M242.3 545.2h0M245.1 544.3h0" stroke="#0000ff" stroke-width="4.75"/>
<path d="M95.0 571.8h0M97.8 571.7h0M100.6 571.6h0M103.3 571.5h0M106.1 571.4h0M108.9 571.2h0M111.7 571.0h0M114.5 570.7h0M117.2 570.4h0M120.0 570.1h0M122.8 569.7h0M125.6 569.4h0M128.4 568.9h0M131.1 568.4h0M133.9 567.8h0M136.7 567.2h0M139.5 566.4h0M142.3 565.7h0M145.0 564.8h0M147.8 563.9h0M150.6 563.4h0M153.4 563.1h0M156.2 563.0h0M158.9 562.8h0M161.7 562.5h0M164.5 562.2h0M167.3 561.8h0M170.1 561.3h0M172.8 560.8h0M175.6 560.1h0M178.4 559.4h0M181.2 558.6h0M184.0 557.9h0M186.7 557.2h0M189.5 556.5h0M192.3 555.8h0M195.1 555.1h0M197.9 554.4h0M200.6 553.6h0M203.4 553.0h0M206.2 552.5h0M209.0 552.0h0M211.8 551.6h0M214.5 551.2h0M217.3 550.8h0M220.1 550.2h0M222.9 549.6h0M225.7 549.0h0M228.4 548.4h0M231.2 547.9h0M234.0 547.3h0M236.8 546.7h0M239.6 546.0h0M242.3 545.2h0M245.1 544.3h0" stroke="#fff" stroke-width="1.25" transform="translate(-0.3 -0.3)"/>
<path d="M206.2 554.0h0M209.0 556.5h0M211.8 558.8h0M214.5 560.8h0M217.3 562.7h0M220.1 564.4h0M222.9 565.9h0M225.7 567.2h0M228.4 568.4h0M231.2 569.3h0M234.0 569.9h0M236.8 570.5h0M239.6 570.9h0M242.3 571.2h0M245.1 571.5h0M247.9 571.7h0M250.7 571.9h0M253.5 572.1h0M256.2 572.3h0M259.0 572.4h0M261.8 572.5h0" stroke="#0000ff" stroke-width="4.75"/>
<path d="M206.2 554.0h0M209.0 556.5h0M211.8 558.8h0M214.5 560.8h0M217.3 562.7h0M220.1 564.4h0M222.9 565.9h0M225.7 567.2h0M228.4 568.4h0M231.2 569.3h0M234.0 569.9h0M236.8 570.5h0M239.6 570.9h0M242.3 571.2h0M245.1 571.5h0M247.9 571.7h0M250.7 571.9h0M253.5 572.1h0M256.2 572.3h0M259.0 572.4h0M261.8 572.5h0" stroke="#fff" stroke-width="1.25" transform="translate(-0.3 -0.3)"/>
<path d="M206.2 547.0h0M209.0 544.4h0M211.8 541.6h0M214.5 538.4h0M217.3 535.1h0M220.1 531.6h0M222.9 528.3h0M225.7 524.8h0M228.4 521.3h0M231.2 517.7h0M234.0 514.2h0M236.8 511.0h0M239.6 508.9h0M242.3 507.3h0M245.1 505.8h0" stroke="#0000ff" stroke-width="4.75"/>
<path d="M206.2 547.0h0M209.0 544.4h0M211.8 541.6h0M214.5 538.4h0M217.3 535.1h0M220.1 531.6h0M222.9 528.3h0M225.7 524.8h0M228.4 521.3h0M231.2 517.7h0M234.0 514.2h0M236.8 511.0h0M239.6 508.9h0M242.3 507.3h0M245.1 505.8h0" stroke="#fff" stroke-width="1.25" transform="translate(-0.3 -0.3)"/>
<path d="M206.2 505.6h0M209.0 506.3h0M211.8 507.6h0M214.5 509.5h0M217.3 512.0h0M220.1 514.9h0M222.9 518.1h0M225.7 520.8h0M228.4 523.9h0M231.2 527.4h0M234.0 530.8h0M236.8 534.4h0M239.6 538.1h0M242.3 542.4h0M245.1 546.5h0" stroke="#0000ff" stroke-width="4.75"/>
<path d="M206.2 505.6h0M209.0 506.3h0M211.8 507.6h0M214.5 509.5h0M217.3 512.0h0M220.1 514.9h0M222.9 518.1h0M225.7 520.8h0M228.4 523.9h0M231.2 527.4h0M234.0 530.8h0M236.8 534.4h0M239.6 538.1h0M242.3 542.4h0M245.1 546.5h0" stroke="#fff" stroke-width="1.25" transform="translate(-0.3 -0.3)"/>
<path d="M256.2 566.1h0M259.0 569.8h0M261.8 573.5h0M264.6 569.7h0M267.4 565.9h0" stroke="#0000ff" stroke-width="4.75"/>
<path d="M256.2 566.1h0M259.0 569.8h0M261.8 573.5h0M264.6 569.7h0M267.4 565.9h0" stroke="#fff" stroke-width="1.25" transform="translate(-0.3 -0.3)"/>
<path d="M261.8 572.5h0M264.6 572.5h0M267.4 572.4h0M270.1 572.3h0M272.9 572.1h0M275.7 572.0h0M278.5 571.7h0M281.3 571.4h0M284.0 571.0h0M286.8 570.5h0M289.6 570.1h0M292.4 569.6h0M295.2 569.0h0M297.9 568.4h0M300.7 567.9h0M303.5 567.3h0M306.3 566.7h0M309.1 566.2h0M311.8 565.6h0M314.6 565.0h0M317.4 564.4h0M320.2 564.1h0M323.0 563.9h0M325.7 563.7h0M328.5 563.6h0M331.3 563.5h0M334.1 563.4h0M336.9 563.2h0M339.6 563.0h0M342.4 562.7h0M345.2 562.2h0M348.0 561.7h0M350.8 561.0h0M353.5 560.3h0M356.3 559.5h0M359.1 558.6h0M361.9 557.5h0M364.7 556.3h0M367.4 555.2h0M370.2 554.1h0M373.0 553.0h0" stroke="#0000ff" stroke-width="4.75"/>
<path d="M261.8 572.5h0M264.6 572.5h0M267.4 572.4h0M270.1 572.3h0M272.9 572.1h0M275.7 572.0h0M278.5 571.7h0M281.3 571.4h0M284.0 571.0h0M286.8 570.5h0M289.6 570.1h0M292.4 569.6h0M295.2 569.0h0M297.9 568.4h0M300.7 567.9h0M303.5 567.3h0M306.3 566.7h0M309.1 566.2h0M311.8 565.6h0M314.6 565.0h0M317.4 564.4h0M320.2 564.1h0M323.0 563.9h0M325.7 563.7h0M328.5 563.6h0M331.3 563.5h0M334.1 563.4h0M336.9 563.2h0M339.6 563.0h0M342.4 562.7h0M345.2 562.2h0M348.0 561.7h0M350.8 561.0h0M353.5 560.3h0M356.3 559.5h0M359.1 558.6h0M361.9 557.5h0M364.7 556.3h0M367.4 555.2h0M370.2 554.1h0M373.0 553.0h0" stroke="#fff" stroke-width="1.25" transform="translate(-0.3 -0.3)"/>
<path d="M356.3 482.7h0M359.1 482.5h0M361.9 482.3h0M364.7 482.2h0M367.4 482.0h0M370.2 481.8h0M373.0 481.6h0" stroke="#0000ff" stroke-width="4.75"/>
<path d="M356.3 482.7h0M359.1 482.5h0M361.9 482.3h0M364.7 482.2h0M367.4 482.0h0M370.2 481.8h0M373.0 481.6h0" stroke="#fff" stroke-width="1.25" transform="translate(-0.3 -0.3)"/>
<path d="M356.3 503.3h0M359.1 503.8h0M361.9 504.4h0M364.7 504.9h0M367.4 505.5h0M370.2 506.0h0M373.0 506.6h0" stroke="#0000ff" stroke-width="4.75"/>
<path d="M356.3 503.3h0M359.1 503.8h0M361.9 504.4h0M364.7 504.9h0M367.4 505.5h0M370.2 506.0h0M373.0 506.6h0" stroke="#fff" stroke-width="1.25" transform="translate(-0.3 -0.3)"/>
<path d="M356.3 538.2h0M359.1 539.8h0M361.9 541.4h0M364.7 543.0h0M367.4 544.6h0M370.2 546.2h0M373.0 547.8h0" stroke="#0000ff" stroke-width="4.75"/>
<path d="M356.3 538.2h0M359.1 539.8h0M361.9 541.4h0M364.7 543.0h0M367.4 544.6h0M370.2 546.2h0M373.0 547.8h0" stroke="#fff" stroke-width="1.25" transform="translate(-0.3 -0.3)"/>
</g>
<g clip-path="url(#cb)" fill="none" stroke-linecap="round">
<path d="M373.8 14.0h0M376.6 13.7h0M379.4 13.4h0M382.2 13.1h0M384.9 12.8h0M387.7 12.5h0M390.5 12.2h0M393.3 11.9h0M396.1 11.6h0M398.9 11.4h0M401.6 11.2h0M404.4 11.1h0M407.2 10.9h0M410.0 10.8h0M412.8 10.7h0M415.6 10.5h0M418.4 10.1h0M421.1 9.7h0M423.9 9.2h0" stroke="#0000ff" stroke-width="4.75"/>
<path d="M373.8 14.0h0M376.6 13.7h0M379.4 13.4h0M382.2 13.1h0M384.9 12.8h0M387.7 12.5h0M390.5 12.2h0M393.3 11.9h0M396.1 11.6h0M398.9 11.4h0M401.6 11.2h0M404.4 11.1h0M407.2 10.9h0M410.0 10.8h0M412.8 10.7h0M415.6 10.5h0M418.4 10.1h0M421.1 9.7h0M423.9 9.2h0" stroke="#fff" stroke-width="1.25" transform="translate(-0.3 -0.3)"/>
<path d="M373.8 23.7h0M376.6 23.4h0M379.4 23.0h0M382.2 22.6h0M384.9 22.2h0M387.7 21.7h0M390.5 21.2h0M393.3 20.7h0M396.1 20.1h0M398.9 19.5h0M401.6 18.8h0M404.4 17.9h0M407.2 17.1h0M410.0 16.2h0M412.8 15.2h0M415.6 14.6h0M418.4 14.2h0M421.1 14.0h0M423.9 13.7h0M426.7 13.5h0M429.5 13.2h0M432.3 13.0h0M435.1 12.7h0M437.9 12.4h0M440.6 12.1h0M443.4 11.9h0M446.2 11.6h0M449.0 11.3h0M451.8 11.1h0M454.6 10.8h0M457.4 10.5h0M460.1 10.2h0M462.9 9.8h0M465.7 9.4h0M468.5 9.0h0" stroke="#0000ff" stroke-width="4.75"/>
<path d="M373.8 23.7h0M376.6 23.4h0M379.4 23.0h0M382.2 22.6h0M384.9 22.2h0M387.7 21.7h0M390.5 21.2h0M393.3 20.7h0M396.1 20.1h0M398.9 19.5h0M401.6 18.8h0M404.4 17.9h0M407.2 17.1h0M410.0 16.2h0M412.8 15.2h0M415.6 14.6h0M418.4 14.2h0M421.1 14.0h0M423.9 13.7h0M426.7 13.5h0M429.5 13.2h0M432.3 13.0h0M435.1 12.7h0M437.9 12.4h0M440.6 12.1h0M443.4 11.9h0M446.2 11.6h0M449.0 11.3h0M451.8 11.1h0M454.6 10.8h0M457.4 10.5h0M460.1 10.2h0M462.9 9.8h0M465.7 9.4h0M468.5 9.0h0" stroke="#fff" stroke-width="1.25" transform="translate(-0.3 -0.3)"/>
<path d="M496.3 8.5h0M499.1 10.3h0M501.9 11.5h0M504.7 12.7h0M507.5 13.8h0M510.3 14.9h0M513.0 16.1h0M515.8 17.2h0M518.6 18.3h0M521.4 19.4h0M524.2 20.4h0M527.0 21.3h0M529.8 22.2h0M532.5 22.7h0M535.3 23.0h0M538.1 23.2h0M540.9 23.3h0M543.7 23.2h0M546.5 23.1h0M549.3 22.8h0M552.0 22.5h0M554.8 22.2h0M557.6 21.9h0M560.4 21.4h0M563.2 20.8h0M566.0 20.2h0M568.8 19.5h0M571.5 18.8h0M574.3 18.0h0M577.1 17.1h0M579.9 16.2h0M582.7 15.2h0M585.5 14.5h0M588.2 14.0h0M591.0 13.6h0M593.8 13.2h0M596.6 12.9h0M599.4 12.6h0M602.2 12.3h0M605.0 12.1h0M607.7 11.8h0M610.5 11.6h0M613.3 11.4h0M616.1 11.2h0M618.9 11.0h0M621.7 10.8h0M624.4 10.7h0M627.2 10.4h0M630.0 10.2h0M632.8 9.9h0M635.6 9.5h0M638.4 9.1h0" stroke="#0000ff" stroke-width="4.75"/>
<path d="M496.3 8.5h0M499.1 10.3h0M501.9 11.5h0M504.7 12.7h0M507.5 13.8h0M510.3 14.9h0M513.0 16.1h0M515.8 17.2h0M518.6 18.3h0M521.4 19.4h0M524.2 20.4h0M527.0 21.3h0M529.8 22.2h0M532.5 22.7h0M535.3 23.0h0M538.1 23.2h0M540.9 23.3h0M543.7 23.2h0M546.5 23.1h0M549.3 22.8h0M552.0 22.5h0M554.8 22.2h0M557.6 21.9h0M560.4 21.4h0M563.2 20.8h0M566.0 20.2h0M568.8 19.5h0M571.5 18.8h0M574.3 18.0h0M577.1 17.1h0M579.9 16.2h0M582.7 15.2h0M585.5 14.5h0M588.2 14.0h0M591.0 13.6h0M593.8 13.2h0M596.6 12.9h0M599.4 12.6h0M602.2 12.3h0M605.0 12.1h0M607.7 11.8h0M610.5 11.6h0M613.3 11.4h0M616.1 11.2h0M618.9 11.0h0M621.7 10.8h0M624.4 10.7h0M627.2 10.4h0M630.0 10.2h0M632.8 9.9h0M635.6 9.5h0M638.4 9.1h0" stroke="#fff" stroke-width="1.25" transform="translate(-0.3 -0.3)"/>
<path d="M507.5 9.1h0M510.3 10.1h0M513.0 10.9h0M515.8 11.5h0M518.6 12.1h0M521.4 12.6h0M524.2 13.1h0M527.0 13.5h0M529.8 13.8h0M532.5 14.0h0M535.3 14.1h0M538.1 14.3h0M540.9 14.3h0M543.7 14.2h0M546.5 14.0h0M549.3 13.8h0M552.0 13.5h0M554.8 13.2h0M557.6 12.9h0M560.4 12.6h0M563.2 12.2h0M566.0 11.9h0M568.8 11.6h0M571.5 11.4h0M574.3 11.2h0M577.1 11.1h0M579.9 10.9h0M582.7 10.8h0M585.5 10.7h0M588.2 10.6h0M591.0 10.5h0M593.8 10.4h0M596.6 10.3h0M599.4 10.2h0M602.2 10.1h0M605.0 9.9h0M607.7 9.7h0M610.5 9.4h0M613.3 9.2h0" stroke="#0000ff" stroke-width="4.75"/>
<path d="M507.5 9.1h0M510.3 10.1h0M513.0 10.9h0M515.8 11.5h0M518.6 12.1h0M521.4 12.6h0M524.2 13.1h0M527.0 13.5h0M529.8 13.8h0M532.5 14.0h0M535.3 14.1h0M538.1 14.3h0M540.9 14.3h0M543.7 14.2h0M546.5 14.0h0M549.3 13.8h0M552.0 13.5h0M554.8 13.2h0M557.6 12.9h0M560.4 12.6h0M563.2 12.2h0M566.0 11.9h0M568.8 11.6h0M571.5 11.4h0M574.3 11.2h0M577.1 11.1h0M579.9 10.9h0M582.7 10.8h0M585.5 10.7h0M588.2 10.6h0M591.0 10.5h0M593.8 10.4h0M596.6 10.3h0M599.4 10.2h0M602.2 10.1h0M605.0 9.9h0M607.7 9.7h0M610.5 9.4h0M613.3 9.2h0" stroke="#fff" stroke-width="1.25" transform="translate(-0.3 -0.3)"/>
<path d="M373.8 209.8h0M376.6 209.9h0M379.4 210.0h0M382.2 210.2h0M384.9 210.4h0M387.7 210.6h0M390.5 210.8h0M393.3 211.1h0M396.1 211.6h0M398.9 212.0h0M401.6 212.6h0M404.4 213.1h0M407.2 213.6h0M410.0 214.3h0M412.8 214.9h0M415.6 215.4h0M418.4 215.7h0M421.1 215.9h0M423.9 216.2h0M426.7 216.3h0" stroke="#0000ff" stroke-width="4.75"/>
<path d="M373.8 209.8h0M376.6 209.9h0M379.4 210.0h0M382.2 210.2h0M384.9 210.4h0M387.7 210.6h0M390.5 210.8h0M393.3 211.1h0M396.1 211.6h0M398.9 212.0h0M401.6 212.6h0M404.4 213.1h0M407.2 213.6h0M410.0 214.3h0M412.8 214.9h0M415.6 215.4h0M418.4 215.7h0M421.1 215.9h0M423.9 216.2h0M426.7 216.3h0" stroke="#fff" stroke-width="1.25" transform="translate(-0.3 -0.3)"/>
<path d="M540.9 209.8h0M543.7 209.9h0M546.5 210.0h0M549.3 210.2h0M552.0 210.4h0M554.8 210.6h0M557.6 210.9h0M560.4 211.2h0M563.2 211.6h0M566.0 212.1h0M568.8 212.6h0M571.5 213.1h0M574.3 213.7h0M577.1 214.3h0M579.9 214.9h0M582.7 215.4h0M585.5 215.7h0M588.2 216.0h0M591.0 216.2h0M593.8 216.3h0" stroke="#0000ff" stroke-width="4.75"/>
<path d="M540.9 209.8h0M543.7 209.9h0M546.5 210.0h0M549.3 210.2h0M552.0 210.4h0M554.8 210.6h0M557.6 210.9h0M560.4 211.2h0M563.2 211.6h0M566.0 212.1h0M568.8 212.6h0M571.5 213.1h0M574.3 213.7h0M577.1 214.3h0M579.9 214.9h0M582.7 215.4h0M585.5 215.7h0M588.2 216.0h0M591.0 216.2h0M593.8 216.3h0" stroke="#fff" stroke-width="1.25" transform="translate(-0.3 -0.3)"/>
<path d="M373.8 210.3h0M376.6 210.5h0M379.4 210.8h0M382.2 211.1h0M384.9 211.5h0M387.7 211.9h0M390.5 212.4h0M393.3 212.9h0M396.1 213.6h0M398.9 214.4h0M401.6 215.3h0M404.4 216.1h0M407.2 216.8h0M410.0 217.6h0M412.8 218.3h0M415.6 218.9h0M418.4 219.5h0M421.1 220.0h0M423.9 220.5h0M426.7 220.9h0" stroke="#0000ff" stroke-width="4.75"/>
<path d="M373.8 210.3h0M376.6 210.5h0M379.4 210.8h0M382.2 211.1h0M384.9 211.5h0M387.7 211.9h0M390.5 212.4h0M393.3 212.9h0M396.1 213.6h0M398.9 214.4h0M401.6 215.3h0M404.4 216.1h0M407.2 216.8h0M410.0 217.6h0M412.8 218.3h0M415.6 218.9h0M418.4 219.5h0M421.1 220.0h0M423.9 220.5h0M426.7 220.9h0" stroke="#fff" stroke-width="1.25" transform="translate(-0.3 -0.3)"/>
<path d="M540.9 210.4h0M543.7 210.5h0M546.5 210.8h0M549.3 211.1h0M552.0 211.5h0M554.8 212.0h0M557.6 212.4h0M560.4 213.0h0M563.2 213.7h0M566.0 214.5h0M568.8 215.3h0M571.5 216.1h0M574.3 216.8h0M577.1 217.6h0M579.9 218.3h0M582.7 219.0h0M585.5 219.5h0M588.2 220.0h0M591.0 220.5h0M593.8 220.9h0" stroke="#0000ff" stroke-width="4.75"/>
<path d="M540.9 210.4h0M543.7 210.5h0M546.5 210.8h0M549.3 211.1h0M552.0 211.5h0M554.8 212.0h0M557.6 212.4h0M560.4 213.0h0M563.2 213.7h0M566.0 214.5h0M568.8 215.3h0M571.5 216.1h0M574.3 216.8h0M577.1 217.6h0M579.9 218.3h0M582.7 219.0h0M585.5 219.5h0M588.2 220.0h0M591.0 220.5h0M593.8 220.9h0" stroke="#fff" stroke-width="1.25" transform="translate(-0.3 -0.3)"/>
<path d="M373.8 227.4h0M376.6 227.0h0M379.4 226.6h0M382.2 226.2h0M384.9 225.7h0M387.7 225.2h0M390.5 224.6h0M393.3 224.1h0M396.1 223.5h0M398.9 222.8h0M401.6 222.1h0M404.4 221.4h0M407.2 220.7h0M410.0 219.9h0M412.8 219.1h0M415.6 218.4h0M418.4 217.9h0M421.1 217.4h0M423.9 217.0h0M426.7 216.7h0" stroke="#0000ff" stroke-width="4.75"/>
<path d="M373.8 227.4h0M376.6 227.0h0M379.4 226.6h0M382.2 226.2h0M384.9 225.7h0M387.7 225.2h0M390.5 224.6h0M393.3 224.1h0M396.1 223.5h0M398.9 222.8h0M401.6 222.1h0M404.4 221.4h0M407.2 220.7h0M410.0 219.9h0M412.8 219.1h0M415.6 218.4h0M418.4 217.9h0M421.1 217.4h0M423.9 217.0h0M426.7 216.7h0" stroke="#fff" stroke-width="1.25" transform="translate(-0.3 -0.3)"/>
<path d="M540.9 227.4h0M543.7 227.0h0M546.5 226.6h0M549.3 226.1h0M552.0 225.6h0M554.8 225.1h0M557.6 224.6h0M560.4 224.0h0M563.2 223.4h0M566.0 222.8h0M568.8 222.1h0M571.5 221.4h0M574.3 220.7h0M577.1 219.9h0M579.9 219.1h0M582.7 218.4h0M585.5 217.9h0M588.2 217.4h0M591.0 217.0h0M593.8 216.7h0" stroke="#0000ff" stroke-width="4.75"/>
<path d="M540.9 227.4h0M543.7 227.0h0M546.5 226.6h0M549.3 226.1h0M552.0 225.6h0M554.8 225.1h0M557.6 224.6h0M560.4 224.0h0M563.2 223.4h0M566.0 222.8h0M568.8 222.1h0M571.5 221.4h0M574.3 220.7h0M577.1 219.9h0M579.9 219.1h0M582.7 218.4h0M585.5 217.9h0M588.2 217.4h0M591.0 217.0h0M593.8 216.7h0" stroke="#fff" stroke-width="1.25" transform="translate(-0.3 -0.3)"/>
<path d="M373.8 230.0h0M376.6 229.8h0M379.4 229.5h0M382.2 229.2h0M384.9 228.9h0M387.7 228.5h0M390.5 228.2h0M393.3 227.7h0M396.1 227.2h0M398.9 226.7h0M401.6 226.1h0M404.4 225.5h0M407.2 224.9h0M410.0 224.3h0M412.8 223.7h0M415.6 223.1h0M418.4 222.7h0M421.1 222.2h0M423.9 221.8h0M426.7 221.5h0" stroke="#0000ff" stroke-width="4.75"/>
<path d="M373.8 230.0h0M376.6 229.8h0M379.4 229.5h0M382.2 229.2h0M384.9 228.9h0M387.7 228.5h0M390.5 228.2h0M393.3 227.7h0M396.1 227.2h0M398.9 226.7h0M401.6 226.1h0M404.4 225.5h0M407.2 224.9h0M410.0 224.3h0M412.8 223.7h0M415.6 223.1h0M418.4 222.7h0M421.1 222.2h0M423.9 221.8h0M426.7 221.5h0" stroke="#fff" stroke-width="1.25" transform="translate(-0.3 -0.3)"/>
<path d="M540.9 230.0h0M543.7 229.8h0M546.5 229.5h0M549.3 229.2h0M552.0 228.9h0M554.8 228.5h0M557.6 228.1h0M560.4 227.7h0M563.2 227.2h0M566.0 226.6h0M568.8 226.0h0M571.5 225.5h0M574.3 224.9h0M577.1 224.3h0M579.9 223.7h0M582.7 223.1h0M585.5 222.6h0M588.2 222.2h0M591.0 221.8h0M593.8 221.5h0" stroke="#0000ff" stroke-width="4.75"/>
<path d="M540.9 230.0h0M543.7 229.8h0M546.5 229.5h0M549.3 229.2h0M552.0 228.9h0M554.8 228.5h0M557.6 228.1h0M560.4 227.7h0M563.2 227.2h0M566.0 226.6h0M568.8 226.0h0M571.5 225.5h0M574.3 224.9h0M577.1 224.3h0M579.9 223.7h0M582.7 223.1h0M585.5 222.6h0M588.2 222.2h0M591.0 221.8h0M593.8 221.5h0" stroke="#fff" stroke-width="1.25" transform="translate(-0.3 -0.3)"/>
<path d="M373.8 233.1h0M376.6 233.1h0M379.4 233.1h0M382.2 233.1h0M384.9 233.1h0M387.7 233.1h0M390.5 233.1h0M393.3 233.1h0M396.1 233.1h0M398.9 233.1h0M401.6 233.1h0M404.4 233.1h0M407.2 233.1h0M410.0 233.1h0M412.8 233.1h0M415.6 233.1h0M418.4 233.1h0M421.1 233.1h0M423.9 233.1h0M426.7 233.1h0" stroke="#0000ff" stroke-width="4.75"/>
<path d="M373.8 233.1h0M376.6 233.1h0M379.4 233.1h0M382.2 233.1h0M384.9 233.1h0M387.7 233.1h0M390.5 233.1h0M393.3 233.1h0M396.1 233.1h0M398.9 233.1h0M401.6 233.1h0M404.4 233.1h0M407.2 233.1h0M410.0 233.1h0M412.8 233.1h0M415.6 233.1h0M418.4 233.1h0M421.1 233.1h0M423.9 233.1h0M426.7 233.1h0" stroke="#fff" stroke-width="1.25" transform="translate(-0.3 -0.3)"/>
<path d="M540.9 233.1h0M543.7 233.1h0M546.5 233.1h0M549.3 233.1h0M552.0 233.1h0M554.8 233.1h0M557.6 233.1h0M560.4 233.1h0M563.2 233.1h0M566.0 233.1h0M568.8 233.1h0M571.5 233.1h0M574.3 233.1h0M577.1 233.1h0M579.9 233.1h0M582.7 233.1h0M585.5 233.1h0M588.2 233.1h0M591.0 233.1h0M593.8 233.1h0" stroke="#0000ff" stroke-width="4.75"/>
<path d="M540.9 233.1h0M543.7 233.1h0M546.5 233.1h0M549.3 233.1h0M552.0 233.1h0M554.8 233.1h0M557.6 233.1h0M560.4 233.1h0M563.2 233.1h0M566.0 233.1h0M568.8 233.1h0M571.5 233.1h0M574.3 233.1h0M577.1 233.1h0M579.9 233.1h0M582.7 233.1h0M585.5 233.1h0M588.2 233.1h0M591.0 233.1h0M593.8 233.1h0" stroke="#fff" stroke-width="1.25" transform="translate(-0.3 -0.3)"/>
<path d="M373.8 235.7h0M376.6 235.7h0M379.4 235.6h0M382.2 235.6h0M384.9 235.6h0M387.7 235.5h0M390.5 235.5h0M393.3 235.5h0M396.1 235.5h0M398.9 235.4h0M401.6 235.4h0M404.4 235.4h0M407.2 235.4h0M410.0 235.3h0M412.8 235.3h0M415.6 235.3h0M418.4 235.3h0M421.1 235.2h0M423.9 235.2h0M426.7 235.2h0" stroke="#0000ff" stroke-width="4.75"/>
<path d="M373.8 235.7h0M376.6 235.7h0M379.4 235.6h0M382.2 235.6h0M384.9 235.6h0M387.7 235.5h0M390.5 235.5h0M393.3 235.5h0M396.1 235.5h0M398.9 235.4h0M401.6 235.4h0M404.4 235.4h0M407.2 235.4h0M410.0 235.3h0M412.8 235.3h0M415.6 235.3h0M418.4 235.3h0M421.1 235.2h0M423.9 235.2h0M426.7 235.2h0" stroke="#fff" stroke-width="1.25" transform="translate(-0.3 -0.3)"/>
<path d="M540.9 235.7h0M543.7 235.6h0M546.5 235.6h0M549.3 235.6h0M552.0 235.6h0M554.8 235.5h0M557.6 235.5h0M560.4 235.5h0M563.2 235.5h0M566.0 235.4h0M568.8 235.4h0M571.5 235.4h0M574.3 235.4h0M577.1 235.3h0M579.9 235.3h0M582.7 235.3h0M585.5 235.3h0M588.2 235.2h0M591.0 235.2h0M593.8 235.2h0" stroke="#0000ff" stroke-width="4.75"/>
<path d="M540.9 235.7h0M543.7 235.6h0M546.5 235.6h0M549.3 235.6h0M552.0 235.6h0M554.8 235.5h0M557.6 235.5h0M560.4 235.5h0M563.2 235.5h0M566.0 235.4h0M568.8 235.4h0M571.5 235.4h0M574.3 235.4h0M577.1 235.3h0M579.9 235.3h0M582.7 235.3h0M585.5 235.3h0M588.2 235.2h0M591.0 235.2h0M593.8 235.2h0" stroke="#fff" stroke-width="1.25" transform="translate(-0.3 -0.3)"/>
<path d="M373.8 241.9h0M376.6 241.9h0M379.4 241.9h0M382.2 241.9h0M384.9 241.9h0M387.7 241.9h0M390.5 241.9h0M393.3 241.8h0M396.1 241.7h0M398.9 241.5h0M401.6 241.3h0M404.4 241.1h0M407.2 240.9h0M410.0 240.6h0M412.8 240.3h0M415.6 240.1h0M418.4 239.9h0M421.1 239.7h0M423.9 239.6h0M426.7 239.4h0" stroke="#0000ff" stroke-width="4.75"/>
<path d="M373.8 241.9h0M376.6 241.9h0M379.4 241.9h0M382.2 241.9h0M384.9 241.9h0M387.7 241.9h0M390.5 241.9h0M393.3 241.8h0M396.1 241.7h0M398.9 241.5h0M401.6 241.3h0M404.4 241.1h0M407.2 240.9h0M410.0 240.6h0M412.8 240.3h0M415.6 240.1h0M418.4 239.9h0M421.1 239.7h0M423.9 239.6h0M426.7 239.4h0" stroke="#fff" stroke-width="1.25" transform="translate(-0.3 -0.3)"/>
<path d="M540.9 241.9h0M543.7 241.9h0M546.5 241.9h0M549.3 241.9h0M552.0 241.9h0M554.8 241.9h0M557.6 241.9h0M560.4 241.8h0M563.2 241.7h0M566.0 241.5h0M568.8 241.3h0M571.5 241.1h0M574.3 240.9h0M577.1 240.6h0M579.9 240.3h0M582.7 240.1h0M585.5 239.9h0M588.2 239.7h0M591.0 239.5h0M593.8 239.4h0" stroke="#0000ff" stroke-width="4.75"/>
<path d="M540.9 241.9h0M543.7 241.9h0M546.5 241.9h0M549.3 241.9h0M552.0 241.9h0M554.8 241.9h0M557.6 241.9h0M560.4 241.8h0M563.2 241.7h0M566.0 241.5h0M568.8 241.3h0M571.5 241.1h0M574.3 240.9h0M577.1 240.6h0M579.9 240.3h0M582.7 240.1h0M585.5 239.9h0M588.2 239.7h0M591.0 239.5h0M593.8 239.4h0" stroke="#fff" stroke-width="1.25" transform="translate(-0.3 -0.3)"/>
<path d="M429.5 216.3h0M432.3 215.7h0M435.1 215.1h0M437.9 214.5h0M440.6 213.9h0M443.4 213.2h0M446.2 212.5h0M449.0 211.7h0M451.8 211.1h0M454.6 210.5h0M457.4 210.0h0M460.1 209.6h0M462.9 209.3h0M465.7 209.1h0M468.5 208.9h0M471.3 208.9h0M474.1 208.8h0M476.8 208.8h0M479.6 208.8h0M482.4 208.8h0" stroke="#0000ff" stroke-width="4.75"/>
<path d="M429.5 216.3h0M432.3 215.7h0M435.1 215.1h0M437.9 214.5h0M440.6 213.9h0M443.4 213.2h0M446.2 212.5h0M449.0 211.7h0M451.8 211.1h0M454.6 210.5h0M457.4 210.0h0M460.1 209.6h0M462.9 209.3h0M465.7 209.1h0M468.5 208.9h0M471.3 208.9h0M474.1 208.8h0M476.8 208.8h0M479.6 208.8h0M482.4 208.8h0" stroke="#fff" stroke-width="1.25" transform="translate(-0.3 -0.3)"/>
<path d="M596.6 216.3h0M599.4 215.7h0M602.2 215.1h0M605.0 214.5h0M607.7 213.9h0M610.5 213.2h0M613.3 212.5h0M616.1 211.7h0M618.9 211.1h0M621.7 210.5h0M624.4 210.1h0M627.2 209.7h0M630.0 209.3h0M632.8 209.1h0M635.6 208.9h0M638.4 208.9h0M641.2 208.8h0M643.9 208.8h0M646.7 208.8h0M649.5 208.8h0M652.3 208.8h0" stroke="#0000ff" stroke-width="4.75"/>
<path d="M596.6 216.3h0M599.4 215.7h0M602.2 215.1h0M605.0 214.5h0M607.7 213.9h0M610.5 213.2h0M613.3 212.5h0M616.1 211.7h0M618.9 211.1h0M621.7 210.5h0M624.4 210.1h0M627.2 209.7h0M630.0 209.3h0M632.8 209.1h0M635.6 208.9h0M638.4 208.9h0M641.2 208.8h0M643.9 208.8h0M646.7 208.8h0M649.5 208.8h0M652.3 208.8h0" stroke="#fff" stroke-width="1.25" transform="translate(-0.3 -0.3)"/>
<path d="M429.5 221.2h0M432.3 220.7h0M435.1 220.2h0M437.9 219.7h0M440.6 219.0h0M443.4 218.4h0M446.2 217.5h0M449.0 216.7h0M451.8 215.8h0M454.6 215.0h0M457.4 214.3h0M460.1 213.6h0M462.9 213.0h0M465.7 212.5h0M468.5 212.1h0M471.3 211.7h0M474.1 211.4h0M476.8 211.1h0M479.6 210.8h0M482.4 210.5h0" stroke="#0000ff" stroke-width="4.75"/>
<path d="M429.5 221.2h0M432.3 220.7h0M435.1 220.2h0M437.9 219.7h0M440.6 219.0h0M443.4 218.4h0M446.2 217.5h0M449.0 216.7h0M451.8 215.8h0M454.6 215.0h0M457.4 214.3h0M460.1 213.6h0M462.9 213.0h0M465.7 212.5h0M468.5 212.1h0M471.3 211.7h0M474.1 211.4h0M476.8 211.1h0M479.6 210.8h0M482.4 210.5h0" stroke="#fff" stroke-width="1.25" transform="translate(-0.3 -0.3)"/>
<path d="M596.6 221.2h0M599.4 220.7h0M602.2 220.2h0M605.0 219.7h0M607.7 219.0h0M610.5 218.4h0M613.3 217.6h0M616.1 216.7h0M618.9 215.8h0M621.7 215.1h0M624.4 214.3h0M627.2 213.6h0M630.0 213.0h0M632.8 212.5h0M635.6 212.1h0M638.4 211.8h0M641.2 211.4h0M643.9 211.1h0M646.7 210.8h0M649.5 210.6h0M652.3 210.3h0" stroke="#0000ff" stroke-width="4.75"/>
<path d="M596.6 221.2h0M599.4 220.7h0M602.2 220.2h0M605.0 219.7h0M607.7 219.0h0M610.5 218.4h0M613.3 217.6h0M616.1 216.7h0M618.9 215.8h0M621.7 215.1h0M624.4 214.3h0M627.2 213.6h0M630.0 213.0h0M632.8 212.5h0M635.6 212.1h0M638.4 211.8h0M641.2 211.4h0M643.9 211.1h0M646.7 210.8h0M649.5 210.6h0M652.3 210.3h0" stroke="#fff" stroke-width="1.25" transform="translate(-0.3 -0.3)"/>
<path d="M429.5 216.4h0M432.3 217.1h0M435.1 217.9h0M437.9 218.8h0M440.6 220.0h0M443.4 221.0h0M446.2 221.9h0M449.0 222.6h0M451.8 223.3h0M454.6 224.0h0M457.4 224.6h0M460.1 225.1h0M462.9 225.6h0M465.7 226.0h0M468.5 226.4h0M471.3 226.7h0M474.1 226.9h0M476.8 227.1h0M479.6 227.2h0M482.4 227.3h0" stroke="#0000ff" stroke-width="4.75"/>
<path d="M429.5 216.4h0M432.3 217.1h0M435.1 217.9h0M437.9 218.8h0M440.6 220.0h0M443.4 221.0h0M446.2 221.9h0M449.0 222.6h0M451.8 223.3h0M454.6 224.0h0M457.4 224.6h0M460.1 225.1h0M462.9 225.6h0M465.7 226.0h0M468.5 226.4h0M471.3 226.7h0M474.1 226.9h0M476.8 227.1h0M479.6 227.2h0M482.4 227.3h0" stroke="#fff" stroke-width="1.25" transform="translate(-0.3 -0.3)"/>
<path d="M596.6 216.4h0M599.4 217.1h0M602.2 217.9h0M605.0 218.8h0M607.7 220.0h0M610.5 221.0h0M613.3 221.9h0M616.1 222.6h0M618.9 223.3h0M621.7 224.0h0M624.4 224.6h0M627.2 225.1h0M630.0 225.6h0M632.8 226.0h0M635.6 226.4h0M638.4 226.6h0M641.2 226.8h0M643.9 227.0h0M646.7 227.2h0M649.5 227.3h0M652.3 227.4h0" stroke="#0000ff" stroke-width="4.75"/>
<path d="M596.6 216.4h0M599.4 217.1h0M602.2 217.9h0M605.0 218.8h0M607.7 220.0h0M610.5 221.0h0M613.3 221.9h0M616.1 222.6h0M618.9 223.3h0M621.7 224.0h0M624.4 224.6h0M627.2 225.1h0M630.0 225.6h0M632.8 226.0h0M635.6 226.4h0M638.4 226.6h0M641.2 226.8h0M643.9 227.0h0M646.7 227.2h0M649.5 227.3h0M652.3 227.4h0" stroke="#fff" stroke-width="1.25" transform="translate(-0.3 -0.3)"/>
<path d="M429.5 221.2h0M432.3 221.6h0M435.1 222.0h0M437.9 222.4h0M440.6 222.9h0M443.4 223.5h0M446.2 224.2h0M449.0 224.9h0M451.8 225.6h0M454.6 226.3h0M457.4 226.8h0M460.1 227.4h0M462.9 227.9h0M465.7 228.3h0M468.5 228.7h0M471.3 229.0h0M474.1 229.3h0M476.8 229.5h0M479.6 229.6h0M482.4 229.7h0" stroke="#0000ff" stroke-width="4.75"/>
<path d="M429.5 221.2h0M432.3 221.6h0M435.1 222.0h0M437.9 222.4h0M440.6 222.9h0M443.4 223.5h0M446.2 224.2h0M449.0 224.9h0M451.8 225.6h0M454.6 226.3h0M457.4 226.8h0M460.1 227.4h0M462.9 227.9h0M465.7 228.3h0M468.5 228.7h0M471.3 229.0h0M474.1 229.3h0M476.8 229.5h0M479.6 229.6h0M482.4 229.7h0" stroke="#fff" stroke-width="1.25" transform="translate(-0.3 -0.3)"/>
<path d="M596.6 221.2h0M599.4 221.6h0M602.2 222.0h0M605.0 222.4h0M607.7 222.9h0M610.5 223.5h0M613.3 224.1h0M616.1 224.9h0M618.9 225.6h0M621.7 226.2h0M624.4 226.8h0M627.2 227.4h0M630.0 227.9h0M632.8 228.3h0M635.6 228.7h0M638.4 229.0h0M641.2 229.2h0M643.9 229.4h0M646.7 229.6h0M649.5 229.7h0M652.3 229.8h0" stroke="#0000ff" stroke-width="4.75"/>
<path d="M596.6 221.2h0M599.4 221.6h0M602.2 222.0h0M605.0 222.4h0M607.7 222.9h0M610.5 223.5h0M613.3 224.1h0M616.1 224.9h0M618.9 225.6h0M621.7 226.2h0M624.4 226.8h0M627.2 227.4h0M630.0 227.9h0M632.8 228.3h0M635.6 228.7h0M638.4 229.0h0M641.2 229.2h0M643.9 229.4h0M646.7 229.6h0M649.5 229.7h0M652.3 229.8h0" stroke="#fff" stroke-width="1.25" transform="translate(-0.3 -0.3)"/>
<path d="M429.5 233.1h0M432.3 233.1h0M435.1 233.1h0M437.9 233.1h0M440.6 233.1h0M443.4 233.1h0M446.2 233.1h0M449.0 233.1h0M451.8 233.1h0M454.6 233.1h0M457.4 233.1h0M460.1 233.1h0M462.9 233.1h0M465.7 233.1h0M468.5 233.1h0M471.3 233.1h0M474.1 233.1h0M476.8 233.1h0M479.6 233.1h0M482.4 233.1h0" stroke="#0000ff" stroke-width="4.75"/>
<path d="M429.5 233.1h0M432.3 233.1h0M435.1 233.1h0M437.9 233.1h0M440.6 233.1h0M443.4 233.1h0M446.2 233.1h0M449.0 233.1h0M451.8 233.1h0M454.6 233.1h0M457.4 233.1h0M460.1 233.1h0M462.9 233.1h0M465.7 233.1h0M468.5 233.1h0M471.3 233.1h0M474.1 233.1h0M476.8 233.1h0M479.6 233.1h0M482.4 233.1h0" stroke="#fff" stroke-width="1.25" transform="translate(-0.3 -0.3)"/>
<path d="M596.6 233.1h0M599.4 233.1h0M602.2 233.1h0M605.0 233.1h0M607.7 233.1h0M610.5 233.1h0M613.3 233.1h0M616.1 233.1h0M618.9 233.1h0M621.7 233.1h0M624.4 233.1h0M627.2 233.1h0M630.0 233.1h0M632.8 233.1h0M635.6 233.1h0M638.4 233.1h0M641.2 233.1h0M643.9 233.1h0M646.7 233.1h0M649.5 233.1h0M652.3 233.1h0" stroke="#0000ff" stroke-width="4.75"/>
<path d="M596.6 233.1h0M599.4 233.1h0M602.2 233.1h0M605.0 233.1h0M607.7 233.1h0M610.5 233.1h0M613.3 233.1h0M616.1 233.1h0M618.9 233.1h0M621.7 233.1h0M624.4 233.1h0M627.2 233.1h0M630.0 233.1h0M632.8 233.1h0M635.6 233.1h0M638.4 233.1h0M641.2 233.1h0M643.9 233.1h0M646.7 233.1h0M649.5 233.1h0M652.3 233.1h0" stroke="#fff" stroke-width="1.25" transform="translate(-0.3 -0.3)"/>
<path d="M429.5 235.2h0M432.3 235.2h0M435.1 235.2h0M437.9 235.2h0M440.6 235.2h0M443.4 235.2h0M446.2 235.2h0M449.0 235.2h0M451.8 235.2h0M454.6 235.3h0M457.4 235.3h0M460.1 235.3h0M462.9 235.3h0M465.7 235.3h0M468.5 235.3h0M471.3 235.3h0M474.1 235.3h0M476.8 235.3h0M479.6 235.3h0M482.4 235.4h0" stroke="#0000ff" stroke-width="4.75"/>
<path d="M429.5 235.2h0M432.3 235.2h0M435.1 235.2h0M437.9 235.2h0M440.6 235.2h0M443.4 235.2h0M446.2 235.2h0M449.0 235.2h0M451.8 235.2h0M454.6 235.3h0M457.4 235.3h0M460.1 235.3h0M462.9 235.3h0M465.7 235.3h0M468.5 235.3h0M471.3 235.3h0M474.1 235.3h0M476.8 235.3h0M479.6 235.3h0M482.4 235.4h0" stroke="#fff" stroke-width="1.25" transform="translate(-0.3 -0.3)"/>
<path d="M596.6 235.2h0M599.4 235.2h0M602.2 235.2h0M605.0 235.2h0M607.7 235.2h0M610.5 235.2h0M613.3 235.2h0M616.1 235.2h0M618.9 235.2h0M621.7 235.3h0M624.4 235.3h0M627.2 235.3h0M630.0 235.3h0M632.8 235.3h0M635.6 235.3h0M638.4 235.3h0M641.2 235.3h0M643.9 235.3h0M646.7 235.3h0M649.5 235.4h0M652.3 235.4h0" stroke="#0000ff" stroke-width="4.75"/>
<path d="M596.6 235.2h0M599.4 235.2h0M602.2 235.2h0M605.0 235.2h0M607.7 235.2h0M610.5 235.2h0M613.3 235.2h0M616.1 235.2h0M618.9 235.2h0M621.7 235.3h0M624.4 235.3h0M627.2 235.3h0M630.0 235.3h0M632.8 235.3h0M635.6 235.3h0M638.4 235.3h0M641.2 235.3h0M643.9 235.3h0M646.7 235.3h0M649.5 235.4h0M652.3 235.4h0" stroke="#fff" stroke-width="1.25" transform="translate(-0.3 -0.3)"/>
<path d="M429.5 239.3h0M432.3 239.3h0M435.1 239.4h0M437.9 239.4h0M440.6 239.4h0M443.4 239.5h0M446.2 239.5h0M449.0 239.6h0M451.8 239.6h0M454.6 239.6h0M457.4 239.7h0M460.1 239.7h0M462.9 239.7h0M465.7 239.8h0M468.5 239.8h0M471.3 239.8h0M474.1 239.9h0M476.8 239.9h0M479.6 240.0h0M482.4 240.0h0" stroke="#0000ff" stroke-width="4.75"/>
<path d="M429.5 239.3h0M432.3 239.3h0M435.1 239.4h0M437.9 239.4h0M440.6 239.4h0M443.4 239.5h0M446.2 239.5h0M449.0 239.6h0M451.8 239.6h0M454.6 239.6h0M457.4 239.7h0M460.1 239.7h0M462.9 239.7h0M465.7 239.8h0M468.5 239.8h0M471.3 239.8h0M474.1 239.9h0M476.8 239.9h0M479.6 240.0h0M482.4 240.0h0" stroke="#fff" stroke-width="1.25" transform="translate(-0.3 -0.3)"/>
<path d="M596.6 239.3h0M599.4 239.3h0M602.2 239.4h0M605.0 239.4h0M607.7 239.4h0M610.5 239.5h0M613.3 239.5h0M616.1 239.6h0M618.9 239.6h0M621.7 239.6h0M624.4 239.7h0M627.2 239.7h0M630.0 239.7h0M632.8 239.8h0M635.6 239.8h0M638.4 239.8h0M641.2 239.9h0M643.9 239.9h0M646.7 239.9h0M649.5 240.0h0M652.3 240.0h0" stroke="#0000ff" stroke-width="4.75"/>
<path d="M596.6 239.3h0M599.4 239.3h0M602.2 239.4h0M605.0 239.4h0M607.7 239.4h0M610.5 239.5h0M613.3 239.5h0M616.1 239.6h0M618.9 239.6h0M621.7 239.6h0M624.4 239.7h0M627.2 239.7h0M630.0 239.7h0M632.8 239.8h0M635.6 239.8h0M638.4 239.8h0M641.2 239.9h0M643.9 239.9h0M646.7 239.9h0M649.5 240.0h0M652.3 240.0h0" stroke="#fff" stroke-width="1.25" transform="translate(-0.3 -0.3)"/>
<path d="M485.2 208.8h0M488.0 208.8h0M490.8 208.8h0M493.6 208.8h0M496.3 208.8h0M499.1 208.8h0M501.9 208.8h0M504.7 208.8h0M507.5 208.8h0M510.3 208.8h0M513.0 208.8h0M515.8 208.9h0M518.6 208.9h0M521.4 209.0h0M524.2 209.0h0M527.0 209.1h0M529.8 209.2h0M532.5 209.3h0M535.3 209.5h0M538.1 209.6h0" stroke="#0000ff" stroke-width="4.75"/>
<path d="M485.2 208.8h0M488.0 208.8h0M490.8 208.8h0M493.6 208.8h0M496.3 208.8h0M499.1 208.8h0M501.9 208.8h0M504.7 208.8h0M507.5 208.8h0M510.3 208.8h0M513.0 208.8h0M515.8 208.9h0M518.6 208.9h0M521.4 209.0h0M524.2 209.0h0M527.0 209.1h0M529.8 209.2h0M532.5 209.3h0M535.3 209.5h0M538.1 209.6h0" stroke="#fff" stroke-width="1.25" transform="translate(-0.3 -0.3)"/>
<path d="M485.2 210.3h0M488.0 210.5h0M490.8 210.8h0M493.6 211.4h0M496.3 212.3h0M499.1 213.3h0M501.9 214.4h0M504.7 215.7h0M507.5 217.1h0M510.3 218.5h0M513.0 219.9h0M515.8 221.2h0M518.6 222.4h0M521.4 223.5h0M524.2 224.5h0M527.0 225.3h0M529.8 225.9h0M532.5 226.4h0M535.3 226.8h0M538.1 227.2h0" stroke="#0000ff" stroke-width="4.75"/>
<path d="M485.2 210.3h0M488.0 210.5h0M490.8 210.8h0M493.6 211.4h0M496.3 212.3h0M499.1 213.3h0M501.9 214.4h0M504.7 215.7h0M507.5 217.1h0M510.3 218.5h0M513.0 219.9h0M515.8 221.2h0M518.6 222.4h0M521.4 223.5h0M524.2 224.5h0M527.0 225.3h0M529.8 225.9h0M532.5 226.4h0M535.3 226.8h0M538.1 227.2h0" stroke="#fff" stroke-width="1.25" transform="translate(-0.3 -0.3)"/>
<path d="M485.2 227.4h0M488.0 227.2h0M490.8 226.9h0M493.6 226.4h0M496.3 225.8h0M499.1 224.7h0M501.9 223.5h0M504.7 222.1h0M507.5 220.7h0M510.3 219.3h0M513.0 217.9h0M515.8 216.5h0M518.6 215.0h0M521.4 213.7h0M524.2 212.7h0M527.0 211.9h0M529.8 211.3h0M532.5 210.8h0M535.3 210.5h0M538.1 210.4h0" stroke="#0000ff" stroke-width="4.75"/>
<path d="M485.2 227.4h0M488.0 227.2h0M490.8 226.9h0M493.6 226.4h0M496.3 225.8h0M499.1 224.7h0M501.9 223.5h0M504.7 222.1h0M507.5 220.7h0M510.3 219.3h0M513.0 217.9h0M515.8 216.5h0M518.6 215.0h0M521.4 213.7h0M524.2 212.7h0M527.0 211.9h0M529.8 211.3h0M532.5 210.8h0M535.3 210.5h0M538.1 210.4h0" stroke="#fff" stroke-width="1.25" transform="translate(-0.3 -0.3)"/>
<path d="M485.2 229.7h0M488.0 229.5h0M490.8 229.2h0M493.6 229.0h0M496.3 228.9h0M499.1 228.7h0M501.9 228.6h0M504.7 228.5h0M507.5 228.5h0M510.3 228.4h0M513.0 228.5h0M515.8 228.6h0M518.6 228.7h0M521.4 228.9h0M524.2 229.2h0M527.0 229.6h0M529.8 229.7h0M532.5 229.8h0M535.3 229.9h0M538.1 230.0h0" stroke="#0000ff" stroke-width="4.75"/>
<path d="M485.2 229.7h0M488.0 229.5h0M490.8 229.2h0M493.6 229.0h0M496.3 228.9h0M499.1 228.7h0M501.9 228.6h0M504.7 228.5h0M507.5 228.5h0M510.3 228.4h0M513.0 228.5h0M515.8 228.6h0M518.6 228.7h0M521.4 228.9h0M524.2 229.2h0M527.0 229.6h0M529.8 229.7h0M532.5 229.8h0M535.3 229.9h0M538.1 230.0h0" stroke="#fff" stroke-width="1.25" transform="translate(-0.3 -0.3)"/>
<path d="M485.2 233.1h0M488.0 233.1h0M490.8 233.1h0M493.6 233.1h0M496.3 233.1h0M499.1 233.1h0M501.9 233.1h0M504.7 233.1h0M507.5 233.1h0M510.3 233.1h0M513.0 233.1h0M515.8 233.1h0M518.6 233.1h0M521.4 233.1h0M524.2 233.1h0M527.0 233.1h0M529.8 233.1h0M532.5 233.1h0M535.3 233.1h0M538.1 233.1h0" stroke="#0000ff" stroke-width="4.75"/>
<path d="M485.2 233.1h0M488.0 233.1h0M490.8 233.1h0M493.6 233.1h0M496.3 233.1h0M499.1 233.1h0M501.9 233.1h0M504.7 233.1h0M507.5 233.1h0M510.3 233.1h0M513.0 233.1h0M515.8 233.1h0M518.6 233.1h0M521.4 233.1h0M524.2 233.1h0M527.0 233.1h0M529.8 233.1h0M532.5 233.1h0M535.3 233.1h0M538.1 233.1h0" stroke="#fff" stroke-width="1.25" transform="translate(-0.3 -0.3)"/>
<path d="M485.2 235.4h0M488.0 235.4h0M490.8 235.4h0M493.6 235.4h0M496.3 235.4h0M499.1 235.4h0M501.9 235.5h0M504.7 235.5h0M507.5 235.5h0M510.3 235.5h0M513.0 235.5h0M515.8 235.5h0M518.6 235.6h0M521.4 235.6h0M524.2 235.6h0M527.0 235.6h0M529.8 235.6h0M532.5 235.6h0M535.3 235.6h0M538.1 235.7h0" stroke="#0000ff" stroke-width="4.75"/>
<path d="M485.2 235.4h0M488.0 235.4h0M490.8 235.4h0M493.6 235.4h0M496.3 235.4h0M499.1 235.4h0M501.9 235.5h0M504.7 235.5h0M507.5 235.5h0M510.3 235.5h0M513.0 235.5h0M515.8 235.5h0M518.6 235.6h0M521.4 235.6h0M524.2 235.6h0M527.0 235.6h0M529.8 235.6h0M532.5 235.6h0M535.3 235.6h0M538.1 235.7h0" stroke="#fff" stroke-width="1.25" transform="translate(-0.3 -0.3)"/>
<path d="M485.2 240.0h0M488.0 240.0h0M490.8 240.0h0M493.6 240.0h0M496.3 240.0h0M499.1 240.0h0M501.9 240.0h0M504.7 240.0h0M507.5 240.0h0M510.3 240.2h0M513.0 240.5h0M515.8 240.8h0M518.6 241.0h0M521.4 241.3h0M524.2 241.5h0M527.0 241.7h0M529.8 241.8h0M532.5 241.9h0M535.3 241.9h0M538.1 242.0h0" stroke="#0000ff" stroke-width="4.75"/>
<path d="M485.2 240.0h0M488.0 240.0h0M490.8 240.0h0M493.6 240.0h0M496.3 240.0h0M499.1 240.0h0M501.9 240.0h0M504.7 240.0h0M507.5 240.0h0M510.3 240.2h0M513.0 240.5h0M515.8 240.8h0M518.6 241.0h0M521.4 241.3h0M524.2 241.5h0M527.0 241.7h0M529.8 241.8h0M532.5 241.9h0M535.3 241.9h0M538.1 242.0h0" stroke="#fff" stroke-width="1.25" transform="translate(-0.3 -0.3)"/>
<path d="M376.6 449.0h0M379.4 448.8h0M382.2 448.7h0M384.9 448.6h0M387.7 448.6h0M390.5 448.8h0M393.3 449.0h0M396.1 449.2h0M398.9 449.5h0M401.6 450.0h0M404.4 450.5h0M407.2 451.0h0M410.0 451.6h0M412.8 452.2h0M415.6 452.6h0M418.4 453.0h0M421.1 453.3h0M423.9 453.6h0M426.7 453.6h0M429.5 453.6h0M432.3 453.7h0M435.1 453.7h0M437.9 453.7h0M440.6 453.8h0M443.4 453.9h0M446.2 454.1h0M449.0 454.3h0M451.8 454.6h0M454.6 454.9h0M457.4 455.2h0M460.1 455.5h0M462.9 455.8h0M465.7 456.0h0M468.5 456.2h0M471.3 456.4h0M474.1 456.5h0M476.8 456.5h0M479.6 456.5h0M482.4 456.5h0M485.2 456.5h0M488.0 456.2h0M490.8 455.6h0M493.6 455.0h0M496.3 454.2h0M499.1 453.3h0M501.9 452.4h0M504.7 451.5h0M507.5 450.8h0M510.3 450.1h0M513.0 449.5h0M515.8 449.0h0M518.6 448.6h0M521.4 448.3h0M524.2 448.0h0M527.0 447.8h0M529.8 447.7h0M532.5 447.6h0M535.3 447.6h0M538.1 447.5h0M540.9 447.5h0M543.7 447.5h0M546.5 447.6h0M549.3 447.7h0M552.0 447.8h0M554.8 447.9h0M557.6 448.0h0M560.4 448.0h0M563.2 448.2h0M566.0 448.3h0M568.8 448.5h0M571.5 448.8h0M574.3 449.1h0M577.1 449.5h0M579.9 449.8h0M582.7 450.2h0M585.5 450.7h0M588.2 451.1h0M591.0 451.6h0M593.8 452.1h0M596.6 452.5h0M599.4 452.9h0M602.2 453.2h0M605.0 453.5h0M607.7 453.8h0M610.5 454.0h0M613.3 454.3h0M616.1 454.5h0M618.9 454.8h0M621.7 455.0h0M624.4 455.2h0M627.2 455.3h0M630.0 455.5h0M632.8 455.6h0M635.6 455.8h0M638.4 455.9h0M641.2 456.0h0M643.9 456.2h0M646.7 456.3h0M649.5 456.4h0M652.3 456.5h0" stroke="#0000ff" stroke-width="4.75"/>
<path d="M376.6 449.0h0M379.4 448.8h0M382.2 448.7h0M384.9 448.6h0M387.7 448.6h0M390.5 448.8h0M393.3 449.0h0M396.1 449.2h0M398.9 449.5h0M401.6 450.0h0M404.4 450.5h0M407.2 451.0h0M410.0 451.6h0M412.8 452.2h0M415.6 452.6h0M418.4 453.0h0M421.1 453.3h0M423.9 453.6h0M426.7 453.6h0M429.5 453.6h0M432.3 453.7h0M435.1 453.7h0M437.9 453.7h0M440.6 453.8h0M443.4 453.9h0M446.2 454.1h0M449.0 454.3h0M451.8 454.6h0M454.6 454.9h0M457.4 455.2h0M460.1 455.5h0M462.9 455.8h0M465.7 456.0h0M468.5 456.2h0M471.3 456.4h0M474.1 456.5h0M476.8 456.5h0M479.6 456.5h0M482.4 456.5h0M485.2 456.5h0M488.0 456.2h0M490.8 455.6h0M493.6 455.0h0M496.3 454.2h0M499.1 453.3h0M501.9 452.4h0M504.7 451.5h0M507.5 450.8h0M510.3 450.1h0M513.0 449.5h0M515.8 449.0h0M518.6 448.6h0M521.4 448.3h0M524.2 448.0h0M527.0 447.8h0M529.8 447.7h0M532.5 447.6h0M535.3 447.6h0M538.1 447.5h0M540.9 447.5h0M543.7 447.5h0M546.5 447.6h0M549.3 447.7h0M552.0 447.8h0M554.8 447.9h0M557.6 448.0h0M560.4 448.0h0M563.2 448.2h0M566.0 448.3h0M568.8 448.5h0M571.5 448.8h0M574.3 449.1h0M577.1 449.5h0M579.9 449.8h0M582.7 450.2h0M585.5 450.7h0M588.2 451.1h0M591.0 451.6h0M593.8 452.1h0M596.6 452.5h0M599.4 452.9h0M602.2 453.2h0M605.0 453.5h0M607.7 453.8h0M610.5 454.0h0M613.3 454.3h0M616.1 454.5h0M618.9 454.8h0M621.7 455.0h0M624.4 455.2h0M627.2 455.3h0M630.0 455.5h0M632.8 455.6h0M635.6 455.8h0M638.4 455.9h0M641.2 456.0h0M643.9 456.2h0M646.7 456.3h0M649.5 456.4h0M652.3 456.5h0" stroke="#fff" stroke-width="1.25" transform="translate(-0.3 -0.3)"/>
<path d="M376.6 464.8h0M379.4 463.8h0M382.2 463.0h0M384.9 462.1h0M387.7 461.3h0M390.5 460.5h0M393.3 459.6h0M396.1 458.8h0M398.9 458.0h0M401.6 457.2h0M404.4 456.4h0M407.2 455.7h0M410.0 455.1h0M412.8 454.7h0M415.6 454.4h0M418.4 454.2h0M421.1 454.1h0M423.9 454.1h0M426.7 454.0h0" stroke="#0000ff" stroke-width="4.75"/>
<path d="M376.6 464.8h0M379.4 463.8h0M382.2 463.0h0M384.9 462.1h0M387.7 461.3h0M390.5 460.5h0M393.3 459.6h0M396.1 458.8h0M398.9 458.0h0M401.6 457.2h0M404.4 456.4h0M407.2 455.7h0M410.0 455.1h0M412.8 454.7h0M415.6 454.4h0M418.4 454.2h0M421.1 454.1h0M423.9 454.1h0M426.7 454.0h0" stroke="#fff" stroke-width="1.25" transform="translate(-0.3 -0.3)"/>
<path d="M485.2 457.2h0M488.0 457.2h0M490.8 457.1h0M493.6 457.0h0M496.3 456.9h0M499.1 456.7h0M501.9 456.5h0M504.7 456.3h0M507.5 456.2h0M510.3 456.5h0M513.0 457.0h0M515.8 458.0h0M518.6 459.1h0M521.4 460.2h0M524.2 461.5h0M527.0 462.8h0M529.8 464.1h0" stroke="#0000ff" stroke-width="4.75"/>
<path d="M485.2 457.2h0M488.0 457.2h0M490.8 457.1h0M493.6 457.0h0M496.3 456.9h0M499.1 456.7h0M501.9 456.5h0M504.7 456.3h0M507.5 456.2h0M510.3 456.5h0M513.0 457.0h0M515.8 458.0h0M518.6 459.1h0M521.4 460.2h0M524.2 461.5h0M527.0 462.8h0M529.8 464.1h0" stroke="#fff" stroke-width="1.25" transform="translate(-0.3 -0.3)"/>
<path d="M376.6 469.3h0M379.4 469.6h0M382.2 470.0h0M384.9 470.7h0M387.7 471.5h0M390.5 472.3h0M393.3 473.3h0M396.1 474.4h0M398.9 475.6h0M401.6 476.9h0M404.4 478.5h0M407.2 480.2h0M410.0 482.1h0M412.8 484.2h0M415.6 486.7h0M418.4 489.4h0M421.1 492.4h0M423.9 495.9h0M426.7 499.8h0" stroke="#0000ff" stroke-width="4.75"/>
<path d="M376.6 469.3h0M379.4 469.6h0M382.2 470.0h0M384.9 470.7h0M387.7 471.5h0M390.5 472.3h0M393.3 473.3h0M396.1 474.4h0M398.9 475.6h0M401.6 476.9h0M404.4 478.5h0M407.2 480.2h0M410.0 482.1h0M412.8 484.2h0M415.6 486.7h0M418.4 489.4h0M421.1 492.4h0M423.9 495.9h0M426.7 499.8h0" stroke="#fff" stroke-width="1.25" transform="translate(-0.3 -0.3)"/>
<path d="M376.6 470.8h0M379.4 471.5h0M382.2 472.3h0M384.9 473.2h0M387.7 474.3h0M390.5 475.4h0M393.3 476.6h0M396.1 478.0h0M398.9 479.5h0M401.6 481.2h0M404.4 482.9h0M407.2 484.9h0M410.0 487.1h0M412.8 489.6h0M415.6 492.5h0M418.4 495.7h0M421.1 499.2h0M423.9 502.9h0" stroke="#0000ff" stroke-width="4.75"/>
<path d="M376.6 470.8h0M379.4 471.5h0M382.2 472.3h0M384.9 473.2h0M387.7 474.3h0M390.5 475.4h0M393.3 476.6h0M396.1 478.0h0M398.9 479.5h0M401.6 481.2h0M404.4 482.9h0M407.2 484.9h0M410.0 487.1h0M412.8 489.6h0M415.6 492.5h0M418.4 495.7h0M421.1 499.2h0M423.9 502.9h0" stroke="#fff" stroke-width="1.25" transform="translate(-0.3 -0.3)"/>
<path d="M373.8 512.7h0M376.6 512.8h0M379.4 512.9h0M382.2 513.1h0M384.9 513.3h0M387.7 513.5h0M390.5 513.8h0M393.3 514.0h0M396.1 514.0h0M398.9 514.0h0M401.6 514.0h0M404.4 514.0h0M407.2 513.2h0M410.0 511.7h0M412.8 509.7h0M415.6 507.0h0M418.4 503.7h0M421.1 500.9h0M423.9 498.9h0M426.7 497.2h0M429.5 495.7h0M432.3 494.4h0M435.1 493.0h0M437.9 491.6h0M440.6 490.2h0M443.4 488.8h0M446.2 487.3h0M449.0 485.3h0M451.8 483.5h0M454.6 481.8h0M457.4 480.1h0M460.1 478.5h0M462.9 477.2h0M465.7 476.2h0M468.5 475.3h0M471.3 474.5h0M474.1 473.8h0M476.8 473.6h0M479.6 473.5h0M482.4 473.4h0M485.2 473.4h0M488.0 473.8h0M490.8 474.4h0M493.6 475.1h0M496.3 475.8h0M499.1 476.2h0M501.9 476.5h0M504.7 476.6h0M507.5 476.7h0M510.3 476.6h0M513.0 476.3h0M515.8 475.9h0M518.6 475.5h0M521.4 474.9h0M524.2 474.1h0M527.0 473.2h0M529.8 472.1h0" stroke="#0000ff" stroke-width="4.75"/>
<path d="M373.8 512.7h0M376.6 512.8h0M379.4 512.9h0M382.2 513.1h0M384.9 513.3h0M387.7 513.5h0M390.5 513.8h0M393.3 514.0h0M396.1 514.0h0M398.9 514.0h0M401.6 514.0h0M404.4 514.0h0M407.2 513.2h0M410.0 511.7h0M412.8 509.7h0M415.6 507.0h0M418.4 503.7h0M421.1 500.9h0M423.9 498.9h0M426.7 497.2h0M429.5 495.7h0M432.3 494.4h0M435.1 493.0h0M437.9 491.6h0M440.6 490.2h0M443.4 488.8h0M446.2 487.3h0M449.0 485.3h0M451.8 483.5h0M454.6 481.8h0M457.4 480.1h0M460.1 478.5h0M462.9 477.2h0M465.7 476.2h0M468.5 475.3h0M471.3 474.5h0M474.1 473.8h0M476.8 473.6h0M479.6 473.5h0M482.4 473.4h0M485.2 473.4h0M488.0 473.8h0M490.8 474.4h0M493.6 475.1h0M496.3 475.8h0M499.1 476.2h0M501.9 476.5h0M504.7 476.6h0M507.5 476.7h0M510.3 476.6h0M513.0 476.3h0M515.8 475.9h0M518.6 475.5h0M521.4 474.9h0M524.2 474.1h0M527.0 473.2h0M529.8 472.1h0" stroke="#fff" stroke-width="1.25" transform="translate(-0.3 -0.3)"/>
<path d="M373.8 513.4h0M376.6 513.5h0M379.4 513.7h0M382.2 514.0h0M384.9 514.3h0M387.7 514.7h0M390.5 515.1h0M393.3 515.6h0M396.1 516.0h0M398.9 516.6h0M401.6 517.0h0M404.4 517.2h0M407.2 517.0h0M410.0 516.6h0M412.8 515.7h0M415.6 514.2h0M418.4 512.1h0M421.1 509.0h0M423.9 505.4h0M426.7 503.4h0M429.5 502.8h0M432.3 503.4h0M435.1 504.6h0M437.9 505.6h0M440.6 506.8h0M443.4 507.7h0M446.2 508.5h0M449.0 508.4h0M451.8 507.8h0M454.6 507.0h0M457.4 506.5h0M460.1 506.0h0M462.9 505.6h0M465.7 505.3h0M468.5 505.1h0M471.3 504.9h0M474.1 504.8h0M476.8 504.8h0M479.6 504.8h0M482.4 504.8h0M485.2 504.8h0M488.0 505.0h0M490.8 505.2h0M493.6 505.5h0M496.3 505.8h0M499.1 506.2h0M501.9 506.6h0M504.7 507.0h0M507.5 507.4h0M510.3 507.9h0M513.0 508.3h0M515.8 508.8h0M518.6 509.3h0M521.4 509.8h0M524.2 510.5h0M527.0 511.3h0M529.8 512.4h0" stroke="#0000ff" stroke-width="4.75"/>
<path d="M373.8 513.4h0M376.6 513.5h0M379.4 513.7h0M382.2 514.0h0M384.9 514.3h0M387.7 514.7h0M390.5 515.1h0M393.3 515.6h0M396.1 516.0h0M398.9 516.6h0M401.6 517.0h0M404.4 517.2h0M407.2 517.0h0M410.0 516.6h0M412.8 515.7h0M415.6 514.2h0M418.4 512.1h0M421.1 509.0h0M423.9 505.4h0M426.7 503.4h0M429.5 502.8h0M432.3 503.4h0M435.1 504.6h0M437.9 505.6h0M440.6 506.8h0M443.4 507.7h0M446.2 508.5h0M449.0 508.4h0M451.8 507.8h0M454.6 507.0h0M457.4 506.5h0M460.1 506.0h0M462.9 505.6h0M465.7 505.3h0M468.5 505.1h0M471.3 504.9h0M474.1 504.8h0M476.8 504.8h0M479.6 504.8h0M482.4 504.8h0M485.2 504.8h0M488.0 505.0h0M490.8 505.2h0M493.6 505.5h0M496.3 505.8h0M499.1 506.2h0M501.9 506.6h0M504.7 507.0h0M507.5 507.4h0M510.3 507.9h0M513.0 508.3h0M515.8 508.8h0M518.6 509.3h0M521.4 509.8h0M524.2 510.5h0M527.0 511.3h0M529.8 512.4h0" stroke="#fff" stroke-width="1.25" transform="translate(-0.3 -0.3)"/>
<path d="M485.2 473.7h0M488.0 475.3h0M490.8 477.0h0M493.6 478.8h0M496.3 481.1h0M499.1 484.2h0M501.9 487.4h0M504.7 491.3h0M507.5 495.5h0M510.3 499.7h0M513.0 504.3h0M515.8 509.0h0M518.6 513.2h0M521.4 516.0h0M524.2 518.4h0M527.0 520.5h0" stroke="#0000ff" stroke-width="4.75"/>
<path d="M485.2 473.7h0M488.0 475.3h0M490.8 477.0h0M493.6 478.8h0M496.3 481.1h0M499.1 484.2h0M501.9 487.4h0M504.7 491.3h0M507.5 495.5h0M510.3 499.7h0M513.0 504.3h0M515.8 509.0h0M518.6 513.2h0M521.4 516.0h0M524.2 518.4h0M527.0 520.5h0" stroke="#fff" stroke-width="1.25" transform="translate(-0.3 -0.3)"/>
<path d="M504.7 503.8h0M507.5 499.7h0M510.3 495.2h0M513.0 491.3h0M515.8 487.2h0M518.6 483.1h0M521.4 479.5h0M524.2 476.1h0M527.0 473.4h0" stroke="#0000ff" stroke-width="4.75"/>
<path d="M504.7 503.8h0M507.5 499.7h0M510.3 495.2h0M513.0 491.3h0M515.8 487.2h0M518.6 483.1h0M521.4 479.5h0M524.2 476.1h0M527.0 473.4h0" stroke="#fff" stroke-width="1.25" transform="translate(-0.3 -0.3)"/>
<path d="M373.8 572.2h0M376.6 567.4h0M379.4 563.2h0M382.2 559.5h0M384.9 555.7h0M387.7 551.9h0M390.5 547.8h0M393.3 543.2h0M396.1 537.5h0M398.9 532.4h0M401.6 528.2h0M404.4 525.2h0M407.2 523.2h0M410.0 522.1h0M412.8 521.4h0M415.6 521.4h0M418.4 521.8h0M421.1 522.3h0M423.9 523.0h0M426.7 523.5h0M429.5 523.2h0M432.3 522.4h0M435.1 521.7h0M437.9 520.8h0M440.6 520.3h0M443.4 520.2h0M446.2 520.3h0M449.0 521.4h0M451.8 522.7h0M454.6 524.2h0M457.4 525.6h0M460.1 527.0h0M462.9 528.4h0M465.7 529.9h0M468.5 531.3h0M471.3 532.3h0M474.1 533.0h0M476.8 533.4h0M479.6 533.7h0M482.4 533.6h0M485.2 533.4h0M488.0 532.6h0M490.8 530.3h0M493.6 526.5h0M496.3 522.5h0M499.1 519.4h0M501.9 518.0h0M504.7 517.6h0M507.5 518.9h0M510.3 521.5h0M513.0 524.0h0M515.8 525.6h0M518.6 527.2h0M521.4 529.1h0M524.2 532.2h0M527.0 536.5h0" stroke="#0000ff" stroke-width="4.75"/>
<path d="M373.8 572.2h0M376.6 567.4h0M379.4 563.2h0M382.2 559.5h0M384.9 555.7h0M387.7 551.9h0M390.5 547.8h0M393.3 543.2h0M396.1 537.5h0M398.9 532.4h0M401.6 528.2h0M404.4 525.2h0M407.2 523.2h0M410.0 522.1h0M412.8 521.4h0M415.6 521.4h0M418.4 521.8h0M421.1 522.3h0M423.9 523.0h0M426.7 523.5h0M429.5 523.2h0M432.3 522.4h0M435.1 521.7h0M437.9 520.8h0M440.6 520.3h0M443.4 520.2h0M446.2 520.3h0M449.0 521.4h0M451.8 522.7h0M454.6 524.2h0M457.4 525.6h0M460.1 527.0h0M462.9 528.4h0M465.7 529.9h0M468.5 531.3h0M471.3 532.3h0M474.1 533.0h0M476.8 533.4h0M479.6 533.7h0M482.4 533.6h0M485.2 533.4h0M488.0 532.6h0M490.8 530.3h0M493.6 526.5h0M496.3 522.5h0M499.1 519.4h0M501.9 518.0h0M504.7 517.6h0M507.5 518.9h0M510.3 521.5h0M513.0 524.0h0M515.8 525.6h0M518.6 527.2h0M521.4 529.1h0M524.2 532.2h0M527.0 536.5h0" stroke="#fff" stroke-width="1.25" transform="translate(-0.3 -0.3)"/>
<path d="M373.8 545.6h0M376.6 544.2h0M379.4 542.8h0M382.2 541.4h0M384.9 540.0h0M387.7 538.6h0M390.5 537.3h0M393.3 536.0h0M396.1 534.4h0M398.9 532.3h0M401.6 530.4h0M404.4 528.8h0M407.2 527.5h0M410.0 526.7h0M412.8 526.1h0M415.6 526.1h0M418.4 526.4h0M421.1 526.8h0M423.9 527.3h0M426.7 527.9h0M429.5 528.6h0M432.3 529.5h0M435.1 530.6h0M437.9 531.9h0M440.6 533.4h0M443.4 535.0h0M446.2 536.7h0M449.0 538.4h0M451.8 539.9h0M454.6 541.4h0M457.4 543.0h0M460.1 544.6h0M462.9 546.3h0M465.7 548.0h0M468.5 549.6h0M471.3 550.9h0M474.1 552.0h0M476.8 552.8h0M479.6 553.3h0M482.4 553.4h0M485.2 553.4h0M488.0 552.9h0M490.8 550.6h0M493.6 547.8h0M496.3 544.6h0M499.1 541.3h0M501.9 538.0h0M504.7 534.8h0M507.5 531.5h0M510.3 528.8h0M513.0 527.2h0" stroke="#0000ff" stroke-width="4.75"/>
<path d="M373.8 545.6h0M376.6 544.2h0M379.4 542.8h0M382.2 541.4h0M384.9 540.0h0M387.7 538.6h0M390.5 537.3h0M393.3 536.0h0M396.1 534.4h0M398.9 532.3h0M401.6 530.4h0M404.4 528.8h0M407.2 527.5h0M410.0 526.7h0M412.8 526.1h0M415.6 526.1h0M418.4 526.4h0M421.1 526.8h0M423.9 527.3h0M426.7 527.9h0M429.5 528.6h0M432.3 529.5h0M435.1 530.6h0M437.9 531.9h0M440.6 533.4h0M443.4 535.0h0M446.2 536.7h0M449.0 538.4h0M451.8 539.9h0M454.6 541.4h0M457.4 543.0h0M460.1 544.6h0M462.9 546.3h0M465.7 548.0h0M468.5 549.6h0M471.3 550.9h0M474.1 552.0h0M476.8 552.8h0M479.6 553.3h0M482.4 553.4h0M485.2 553.4h0M488.0 552.9h0M490.8 550.6h0M493.6 547.8h0M496.3 544.6h0M499.1 541.3h0M501.9 538.0h0M504.7 534.8h0M507.5 531.5h0M510.3 528.8h0M513.0 527.2h0" stroke="#fff" stroke-width="1.25" transform="translate(-0.3 -0.3)"/>
<path d="M373.8 548.1h0M376.6 546.9h0M379.4 545.7h0M382.2 544.5h0M384.9 543.4h0M387.7 542.3h0M390.5 541.2h0M393.3 540.1h0M396.1 539.0h0M398.9 537.8h0M401.6 536.6h0M404.4 535.5h0M407.2 534.4h0M410.0 533.5h0M412.8 532.6h0M415.6 531.8h0M418.4 531.0h0M421.1 530.3h0M423.9 529.6h0M426.7 529.0h0" stroke="#0000ff" stroke-width="4.75"/>
<path d="M373.8 548.1h0M376.6 546.9h0M379.4 545.7h0M382.2 544.5h0M384.9 543.4h0M387.7 542.3h0M390.5 541.2h0M393.3 540.1h0M396.1 539.0h0M398.9 537.8h0M401.6 536.6h0M404.4 535.5h0M407.2 534.4h0M410.0 533.5h0M412.8 532.6h0M415.6 531.8h0M418.4 531.0h0M421.1 530.3h0M423.9 529.6h0M426.7 529.0h0" stroke="#fff" stroke-width="1.25" transform="translate(-0.3 -0.3)"/>
<path d="M373.8 546.9h0M376.6 548.1h0M379.4 549.3h0M382.2 550.5h0M384.9 551.7h0M387.7 552.8h0M390.5 553.9h0M393.3 554.9h0M396.1 556.0h0M398.9 557.0h0M401.6 558.0h0M404.4 559.0h0M407.2 559.9h0M410.0 560.8h0M412.8 561.7h0M415.6 562.6h0M418.4 563.4h0M421.1 564.0h0M423.9 564.6h0M426.7 565.0h0M429.5 565.2h0M432.3 565.2h0M435.1 565.2h0M437.9 565.2h0M440.6 565.2h0M443.4 565.1h0M446.2 564.9h0M449.0 564.7h0M451.8 564.3h0M454.6 563.9h0M457.4 563.4h0M460.1 562.9h0M462.9 562.3h0M465.7 561.7h0M468.5 561.2h0M471.3 560.6h0M474.1 560.1h0M476.8 559.6h0M479.6 559.0h0M482.4 558.5h0M485.2 557.9h0M488.0 557.4h0M490.8 556.8h0M493.6 556.2h0M496.3 555.6h0M499.1 555.1h0M501.9 554.5h0M504.7 554.0h0M507.5 553.5h0M510.3 553.1h0M513.0 552.7h0M515.8 552.3h0M518.6 551.9h0M521.4 551.6h0M524.2 551.3h0M527.0 551.0h0" stroke="#0000ff" stroke-width="4.75"/>
<path d="M373.8 546.9h0M376.6 548.1h0M379.4 549.3h0M382.2 550.5h0M384.9 551.7h0M387.7 552.8h0M390.5 553.9h0M393.3 554.9h0M396.1 556.0h0M398.9 557.0h0M401.6 558.0h0M404.4 559.0h0M407.2 559.9h0M410.0 560.8h0M412.8 561.7h0M415.6 562.6h0M418.4 563.4h0M421.1 564.0h0M423.9 564.6h0M426.7 565.0h0M429.5 565.2h0M432.3 565.2h0M435.1 565.2h0M437.9 565.2h0M440.6 565.2h0M443.4 565.1h0M446.2 564.9h0M449.0 564.7h0M451.8 564.3h0M454.6 563.9h0M457.4 563.4h0M460.1 562.9h0M462.9 562.3h0M465.7 561.7h0M468.5 561.2h0M471.3 560.6h0M474.1 560.1h0M476.8 559.6h0M479.6 559.0h0M482.4 558.5h0M485.2 557.9h0M488.0 557.4h0M490.8 556.8h0M493.6 556.2h0M496.3 555.6h0M499.1 555.1h0M501.9 554.5h0M504.7 554.0h0M507.5 553.5h0M510.3 553.1h0M513.0 552.7h0M515.8 552.3h0M518.6 551.9h0M521.4 551.6h0M524.2 551.3h0M527.0 551.0h0" stroke="#fff" stroke-width="1.25" transform="translate(-0.3 -0.3)"/>
<path d="M373.8 572.2h0M376.6 572.0h0M379.4 571.8h0M382.2 571.5h0M384.9 571.3h0M387.7 571.1h0M390.5 570.8h0M393.3 570.5h0M396.1 570.2h0M398.9 569.8h0M401.6 569.4h0M404.4 568.9h0M407.2 568.5h0M410.0 568.1h0M412.8 567.7h0M415.6 567.3h0M418.4 566.8h0M421.1 566.4h0M423.9 566.0h0M426.7 565.6h0" stroke="#0000ff" stroke-width="4.75"/>
<path d="M373.8 572.2h0M376.6 572.0h0M379.4 571.8h0M382.2 571.5h0M384.9 571.3h0M387.7 571.1h0M390.5 570.8h0M393.3 570.5h0M396.1 570.2h0M398.9 569.8h0M401.6 569.4h0M404.4 568.9h0M407.2 568.5h0M410.0 568.1h0M412.8 567.7h0M415.6 567.3h0M418.4 566.8h0M421.1 566.4h0M423.9 566.0h0M426.7 565.6h0" stroke="#fff" stroke-width="1.25" transform="translate(-0.3 -0.3)"/>
<path d="M373.8 572.2h0M376.6 567.9h0M379.4 563.7h0M382.2 559.5h0M384.9 555.6h0M387.7 552.2h0M390.5 549.1h0M393.3 546.3h0M396.1 543.4h0M398.9 540.2h0M401.6 537.3h0" stroke="#0000ff" stroke-width="4.75"/>
<path d="M373.8 572.2h0M376.6 567.9h0M379.4 563.7h0M382.2 559.5h0M384.9 555.6h0M387.7 552.2h0M390.5 549.1h0M393.3 546.3h0M396.1 543.4h0M398.9 540.2h0M401.6 537.3h0" stroke="#fff" stroke-width="1.25" transform="translate(-0.3 -0.3)"/>
<path d="M488.0 534.3h0M490.8 535.7h0M493.6 537.2h0M496.3 538.8h0M499.1 540.7h0M501.9 542.9h0M504.7 545.2h0M507.5 547.4h0M510.3 549.5h0M513.0 551.8h0M515.8 554.1h0M518.6 556.2h0M521.4 558.3h0M524.2 560.4h0M527.0 562.4h0M529.8 564.5h0M532.5 566.8h0M535.3 569.3h0M538.1 572.1h0M540.9 573.7h0M543.7 569.5h0M546.5 565.3h0" stroke="#0000ff" stroke-width="4.75"/>
<path d="M488.0 534.3h0M490.8 535.7h0M493.6 537.2h0M496.3 538.8h0M499.1 540.7h0M501.9 542.9h0M504.7 545.2h0M507.5 547.4h0M510.3 549.5h0M513.0 551.8h0M515.8 554.1h0M518.6 556.2h0M521.4 558.3h0M524.2 560.4h0M527.0 562.4h0M529.8 564.5h0M532.5 566.8h0M535.3 569.3h0M538.1 572.1h0M540.9 573.7h0M543.7 569.5h0M546.5 565.3h0" stroke="#fff" stroke-width="1.25" transform="translate(-0.3 -0.3)"/>
<path d="M488.0 553.5h0M490.8 553.6h0M493.6 553.6h0M496.3 553.6h0M499.1 553.5h0M501.9 553.5h0M504.7 553.4h0M507.5 553.2h0M510.3 552.8h0M513.0 552.3h0M515.8 551.7h0M518.6 551.2h0M521.4 550.5h0M524.2 549.8h0M527.0 549.0h0" stroke="#0000ff" stroke-width="4.75"/>
<path d="M488.0 553.5h0M490.8 553.6h0M493.6 553.6h0M496.3 553.6h0M499.1 553.5h0M501.9 553.5h0M504.7 553.4h0M507.5 553.2h0M510.3 552.8h0M513.0 552.3h0M515.8 551.7h0M518.6 551.2h0M521.4 550.5h0M524.2 549.8h0M527.0 549.0h0" stroke="#fff" stroke-width="1.25" transform="translate(-0.3 -0.3)"/>
<path d="M488.0 560.5h0M490.8 561.9h0M493.6 563.4h0M496.3 565.2h0M499.1 566.7h0M501.9 567.9h0M504.7 568.9h0M507.5 569.9h0M510.3 570.6h0M513.0 571.0h0M515.8 571.3h0M518.6 571.4h0M521.4 571.6h0M524.2 571.7h0M527.0 571.8h0M529.8 572.0h0M532.5 572.1h0M535.3 572.3h0M538.1 572.5h0M540.9 572.5h0M543.7 571.4h0M546.5 570.5h0M549.3 570.3h0M552.0 570.1h0M554.8 570.0h0M557.6 569.9h0M560.4 569.8h0M563.2 569.7h0M566.0 569.5h0M568.8 569.3h0M571.5 569.0h0M574.3 568.6h0M577.1 568.2h0M579.9 567.7h0M582.7 567.2h0M585.5 566.8h0M588.2 566.4h0M591.0 566.0h0M593.8 565.7h0M596.6 565.4h0M599.4 565.3h0M602.2 565.2h0M605.0 565.1h0M607.7 565.0h0M610.5 564.9h0M613.3 564.8h0M616.1 564.7h0M618.9 564.6h0M621.7 564.4h0M624.4 564.2h0M627.2 563.8h0M630.0 563.4h0M632.8 563.0h0M635.6 562.5h0M638.4 562.0h0M641.2 561.6h0M643.9 561.0h0M646.7 560.5h0M649.5 559.9h0M652.3 559.3h0" stroke="#0000ff" stroke-width="4.75"/>
<path d="M488.0 560.5h0M490.8 561.9h0M493.6 563.4h0M496.3 565.2h0M499.1 566.7h0M501.9 567.9h0M504.7 568.9h0M507.5 569.9h0M510.3 570.6h0M513.0 571.0h0M515.8 571.3h0M518.6 571.4h0M521.4 571.6h0M524.2 571.7h0M527.0 571.8h0M529.8 572.0h0M532.5 572.1h0M535.3 572.3h0M538.1 572.5h0M540.9 572.5h0M543.7 571.4h0M546.5 570.5h0M549.3 570.3h0M552.0 570.1h0M554.8 570.0h0M557.6 569.9h0M560.4 569.8h0M563.2 569.7h0M566.0 569.5h0M568.8 569.3h0M571.5 569.0h0M574.3 568.6h0M577.1 568.2h0M579.9 567.7h0M582.7 567.2h0M585.5 566.8h0M588.2 566.4h0M591.0 566.0h0M593.8 565.7h0M596.6 565.4h0M599.4 565.3h0M602.2 565.2h0M605.0 565.1h0M607.7 565.0h0M610.5 564.9h0M613.3 564.8h0M616.1 564.7h0M618.9 564.6h0M621.7 564.4h0M624.4 564.2h0M627.2 563.8h0M630.0 563.4h0M632.8 563.0h0M635.6 562.5h0M638.4 562.0h0M641.2 561.6h0M643.9 561.0h0M646.7 560.5h0M649.5 559.9h0M652.3 559.3h0" stroke="#fff" stroke-width="1.25" transform="translate(-0.3 -0.3)"/>
<path d="M635.6 548.6h0M638.4 549.6h0M641.2 550.7h0M643.9 551.7h0M646.7 552.7h0M649.5 553.8h0M652.3 554.8h0" stroke="#0000ff" stroke-width="4.75"/>
<path d="M635.6 548.6h0M638.4 549.6h0M641.2 550.7h0M643.9 551.7h0M646.7 552.7h0M649.5 553.8h0M652.3 554.8h0" stroke="#fff" stroke-width="1.25" transform="translate(-0.3 -0.3)"/>
<path d="M635.6 477.6h0M638.4 476.9h0M641.2 476.2h0M643.9 475.6h0M646.7 474.9h0M649.5 474.2h0M652.3 473.5h0" stroke="#0000ff" stroke-width="4.75"/>
<path d="M635.6 477.6h0M638.4 476.9h0M641.2 476.2h0M643.9 475.6h0M646.7 474.9h0M649.5 474.2h0M652.3 473.5h0" stroke="#fff" stroke-width="1.25" transform="translate(-0.3 -0.3)"/>
<path d="M635.6 506.8h0M638.4 506.6h0M641.2 506.5h0M643.9 506.3h0M646.7 506.1h0M649.5 506.0h0M652.3 505.8h0" stroke="#0000ff" stroke-width="4.75"/>
<path d="M635.6 506.8h0M638.4 506.6h0M641.2 506.5h0M643.9 506.3h0M646.7 506.1h0M649.5 506.0h0M652.3 505.8h0" stroke="#fff" stroke-width="1.25" transform="translate(-0.3 -0.3)"/>
<path d="M635.6 530.5h0M638.4 531.3h0M641.2 532.2h0M643.9 533.0h0M646.7 533.9h0M649.5 534.7h0M652.3 535.6h0" stroke="#0000ff" stroke-width="4.75"/>
<path d="M635.6 530.5h0M638.4 531.3h0M641.2 532.2h0M643.9 533.0h0M646.7 533.9h0M649.5 534.7h0M652.3 535.6h0" stroke="#fff" stroke-width="1.25" transform="translate(-0.3 -0.3)"/>
</g>
<rect x="183.8" y="50.3" width="167.0" height="143.4" fill="#fff"/>
<g fill="none" stroke="#606060" stroke-width="1">
<rect x="193.4" y="82.4" width="106.8" height="104.7"/>
<path d="M246.6 82.4V135H300.2M246.6 135L300.2 82.4" stroke="#303030"/>
</g>
<text transform="translate(225.26 73.53) scale(1.060 1)" font-size="22.22px">(0,1)</text>
<text transform="translate(302.57 73.53) scale(1.048 1)" font-size="22.22px">(1,1)</text>
<text transform="translate(200.16 140.69) scale(1.052 1)" font-size="22.44px">(0,0)</text>
<text transform="translate(303.37 140.69) scale(1.040 1)" font-size="22.44px">(1,0)</text>
<text transform="translate(222.36 100.80) scale(1.163 1)" font-size="21.85px" font-style="italic">X′</text>
<text transform="translate(304.94 100.50) scale(1.129 1)" font-size="21.69px" font-style="italic">M</text>
<text transform="translate(246.54 153.70) skewX(-7.0) scale(1.093 1)" font-size="21.69px" font-style="italic">Γ</text>
<text transform="translate(278.68 153.70) skewX(-7.0) scale(1.202 1)" font-size="21.69px" font-style="italic">X</text>
<rect x="460.1" y="50.3" width="167.0" height="143.4" fill="#fff"/>
<g fill="none" stroke="#606060" stroke-width="1">
<rect x="469.70000000000005" y="82.4" width="106.8" height="104.7"/>
<path d="M522.9 82.4V135H576.5M522.9 135L576.5 82.4" stroke="#303030"/>
</g>
<text transform="translate(501.56 73.53) scale(1.060 1)" font-size="22.22px">(0,1)</text>
<text transform="translate(578.87 73.53) scale(1.048 1)" font-size="22.22px">(1,1)</text>
<text transform="translate(476.46 140.69) scale(1.052 1)" font-size="22.44px">(0,0)</text>
<text transform="translate(579.67 140.69) scale(1.040 1)" font-size="22.44px">(1,0)</text>
<text transform="translate(498.66 100.80) scale(1.163 1)" font-size="21.85px" font-style="italic">X′</text>
<text transform="translate(581.24 100.50) scale(1.129 1)" font-size="21.69px" font-style="italic">M</text>
<text transform="translate(522.84 153.70) skewX(-7.0) scale(1.093 1)" font-size="21.69px" font-style="italic">Γ</text>
<text transform="translate(554.98 153.70) skewX(-7.0) scale(1.202 1)" font-size="21.69px" font-style="italic">X</text>
<g stroke="#333" stroke-width="0.65">
<rect x="246.5" y="454.0" width="110.4" height="108.7" fill="#3a8bc8" stroke="#3079b0" stroke-width="0.6"/>
<circle cx="274.0" cy="481.1" r="21.9" fill="#a6afc3"/>
<circle cx="328.9" cy="481.1" r="21.9" fill="url(#lg)"/>
<circle cx="274.0" cy="535.9" r="21.9" fill="url(#lg)"/>
<circle cx="329.0" cy="535.9" r="21.9" fill="#a6afc3"/>
</g>
<g stroke="#333" stroke-width="0.65" clip-path="url(#cib)">
<rect x="525.9" y="453.2" width="110.0" height="109.5" fill="#3a8bc8" stroke="none"/>
<circle cx="525.9" cy="453.2" r="10.7" fill="url(#lg)"/>
<circle cx="580.9" cy="453.2" r="10.7" fill="url(#lg)"/>
<circle cx="635.9" cy="453.2" r="10.7" fill="url(#lg)"/>
<circle cx="525.9" cy="508.0" r="10.7" fill="url(#lg)"/>
<circle cx="635.9" cy="508.0" r="10.7" fill="url(#lg)"/>
<circle cx="525.9" cy="562.7" r="10.7" fill="url(#lg)"/>
<circle cx="580.9" cy="562.7" r="10.7" fill="url(#lg)"/>
<circle cx="635.9" cy="562.7" r="10.7" fill="url(#lg)"/>
<circle cx="580.9" cy="508.0" r="10.7" fill="url(#lg)"/>
<circle cx="553.4" cy="480.4" r="22.0" fill="#a6afc3"/>
<circle cx="608.6" cy="480.4" r="22.0" fill="url(#lg)"/>
<circle cx="553.4" cy="535.6" r="22.0" fill="url(#lg)"/>
<circle cx="608.6" cy="535.6" r="22.0" fill="#a6afc3"/>
</g>
<polyline fill="none" stroke="#0000ff" stroke-width="2.0" stroke-linejoin="round" points="774.9,10.2 764.9,12.8 753.4,15.6 739.0,22.2 730.4,29.4 724.1,36.6 720.4,43.8 717.5,51.0 713.2,58.1 707.4,65.9 703.7,71.6 704.0,78.2 701.7,84.0 701.1,91.2 701.7,105.5 702.8,119.9 702.3,127.1 702.6,134.2 706.0,144.3 710.3,154.3 716.1,163.0 721.8,171.0 728.4,177.3 719.8,184.4 798.5,198.1 776.4,205.3 798.8,212.2 799.3,218.8 772.1,226.5 818.9,233.4 694.5,240.9 688.8,247.5 668.7,254.7 673.0,263.3 675.3,271.9 675.8,280.5 675.3,289.1 672.4,297.2 664.4,304.1 673.0,312.7 680.2,322.2 685.9,332.2 690.2,343.7 693.1,355.2 693.7,360.9 688.9,374.2 700.6,381.5 706.9,390.0 710.1,396.4 710.7,404.3 713.2,409.9 722.7,417.5 735.3,424.2 754.3,431.1 778.0,438.1 801.7,441.6 820.7,444.7 828.0,452.3 813.4,458.9 827.0,465.9 852.3,472.2 855.5,479.5 852.3,486.4 850.7,494.3 853.3,501.6 852.3,507.9 839.7,514.9 852.3,522.2 852.6,537.0 852.3,556.0 852.6,565.5 853.9,574.3"/>
<g stroke="#000" stroke-width="1.7" stroke-linecap="butt">
<path d="M96.8 253.6L114.8 267.3"/>
<path d="M97.6 352.0L111.5 322.0"/>
<path d="M376.5 444.2L385.8 432.2"/>
<path d="M376.8 247.7L390.6 262.4"/>
</g>
<g fill="#ffff00">
<ellipse cx="94.8" cy="251.3" rx="2.7" ry="3.0"/>
<ellipse cx="94.9" cy="357.3" rx="2.7" ry="3.0"/>
<ellipse cx="374.3" cy="449.6" rx="2.7" ry="3.0"/>
<ellipse cx="374.3" cy="242.6" rx="2.7" ry="3.0"/>
</g>
<text transform="translate(118.28 285.70) scale(0.954 1)" font-size="28.77px">B</text>
<text transform="translate(111.05 322.59) scale(0.851 1)" font-size="29.38px">A</text>
<text transform="translate(386.59 434.30) scale(1.007 1)" font-size="30.15px">C</text>
<text transform="translate(393.42 279.20) scale(1.005 1)" font-size="29.08px">D</text>
<text transform="translate(72.90 584.05) scale(1.000 1)" font-size="30.00px">0</text>
<text transform="translate(875.20 583.50) scale(1.000 1)" font-size="30.00px">0</text>
<text transform="translate(42.90 442.80) scale(1.000 1)" font-size="30.00px">100</text>
<text transform="translate(873.70 442.25) scale(1.000 1)" font-size="30.00px">100</text>
<text transform="translate(42.90 301.55) scale(1.000 1)" font-size="30.00px">200</text>
<text transform="translate(875.20 301.00) scale(1.000 1)" font-size="30.00px">200</text>
<text transform="translate(42.90 160.30) scale(1.000 1)" font-size="30.00px">300</text>
<text transform="translate(874.90 159.75) scale(1.000 1)" font-size="30.00px">300</text>
<text transform="translate(42.90 19.05) scale(1.000 1)" font-size="30.00px">400</text>
<text transform="translate(875.80 18.50) scale(1.000 1)" font-size="30.00px">400</text>
<text transform="translate(658.22 603.71) scale(1.000 1)" font-size="29.70px">-600</text>
<text transform="translate(745.12 603.71) scale(1.000 1)" font-size="29.70px">-300</text>
<text transform="translate(850.48 603.71) scale(1.000 1)" font-size="29.70px">0</text>
<text transform="translate(86.91 604.00) skewX(-7.0) scale(1.020 1)" font-size="30.62px" font-style="italic">Γ</text>
<text transform="translate(140.31 604.00) skewX(-7.0) scale(1.105 1)" font-size="30.62px" font-style="italic">X</text>
<text transform="translate(194.50 604.00) scale(0.973 1)" font-size="30.62px" font-style="italic">M</text>
<text transform="translate(252.73 604.00) skewX(-7.0) scale(1.063 1)" font-size="30.62px" font-style="italic">Γ</text>
<text transform="translate(305.41 604.00) skewX(-3.0) scale(0.986 1)" font-size="30.62px" font-style="italic">X′</text>
<text transform="translate(345.69 604.00) scale(0.958 1)" font-size="30.62px" font-style="italic">M</text>
<text transform="translate(373.10 604.00) skewX(-7.0) scale(0.994 1)" font-size="30.62px" font-style="italic">Γ</text>
<text transform="translate(416.05 604.00) skewX(-7.0) scale(1.148 1)" font-size="30.62px" font-style="italic">X</text>
<text transform="translate(470.20 604.00) scale(0.984 1)" font-size="30.62px" font-style="italic">M</text>
<text transform="translate(528.63 604.00) skewX(-7.0) scale(1.063 1)" font-size="30.62px" font-style="italic">Γ</text>
<text transform="translate(582.49 604.00) skewX(-3.0) scale(0.967 1)" font-size="30.62px" font-style="italic">X′</text>
<text transform="translate(630.29 604.00) scale(0.958 1)" font-size="30.62px" font-style="italic">M</text>
<text x="233.2" y="648.0" font-size="29.7px">Reduced Wave Vector,</text>
<text transform="translate(510.50 648.00) scale(1.097 1)" font-size="27.54px" font-style="italic" font-weight="bold">k</text>
<text transform="translate(718.41 644.20) scale(1.004 1)" font-size="29.69px" font-style="italic">T</text>
<text transform="translate(741.61 644.16) scale(1.000 1)" font-size="29.70px">(dB)</text>
<text transform="translate(219.25 688.37) scale(1.054 1)" font-size="34.44px">(a)</text>
<text transform="translate(471.08 688.37) scale(1.030 1)" font-size="34.44px">(b)</text>
<text transform="translate(723.38 688.37) scale(1.032 1)" font-size="34.44px">(c)</text>
<g transform="translate(0 0)"><text transform="translate(20.6 309.5) rotate(-90)" font-size="29.7px">(Hz)</text><g fill="none" stroke="#000" stroke-linecap="round"><path d="M2.0 311.5C0.3 312.0 -0.2 314.3 2.8 316.3" stroke-width="1.0"/><path d="M2.8 316.3C6.5 318.6 10.5 319.2 15.5 320.5S23.2 322.8 25.0 325.0" stroke-width="1.9"/><path d="M25.0 325.0C26.3 326.6 26.5 327.9 25.2 328.3" stroke-width="1.0"/><path d="M8.0 315.6V322.4" stroke-width="1.1"/></g><circle cx="1.9" cy="311.5" r="0.95"/><circle cx="25.1" cy="328.2" r="0.95"/></g>
<g transform="translate(941.4 0.5)"><text transform="translate(20.6 309.5) rotate(-90)" font-size="29.7px">(Hz)</text><g fill="none" stroke="#000" stroke-linecap="round"><path d="M2.0 311.5C0.3 312.0 -0.2 314.3 2.8 316.3" stroke-width="1.0"/><path d="M2.8 316.3C6.5 318.6 10.5 319.2 15.5 320.5S23.2 322.8 25.0 325.0" stroke-width="1.9"/><path d="M25.0 325.0C26.3 326.6 26.5 327.9 25.2 328.3" stroke-width="1.0"/><path d="M8.0 315.6V322.4" stroke-width="1.1"/></g><circle cx="1.9" cy="311.5" r="0.95"/><circle cx="25.1" cy="328.2" r="0.95"/></g>
</svg></body></html>
